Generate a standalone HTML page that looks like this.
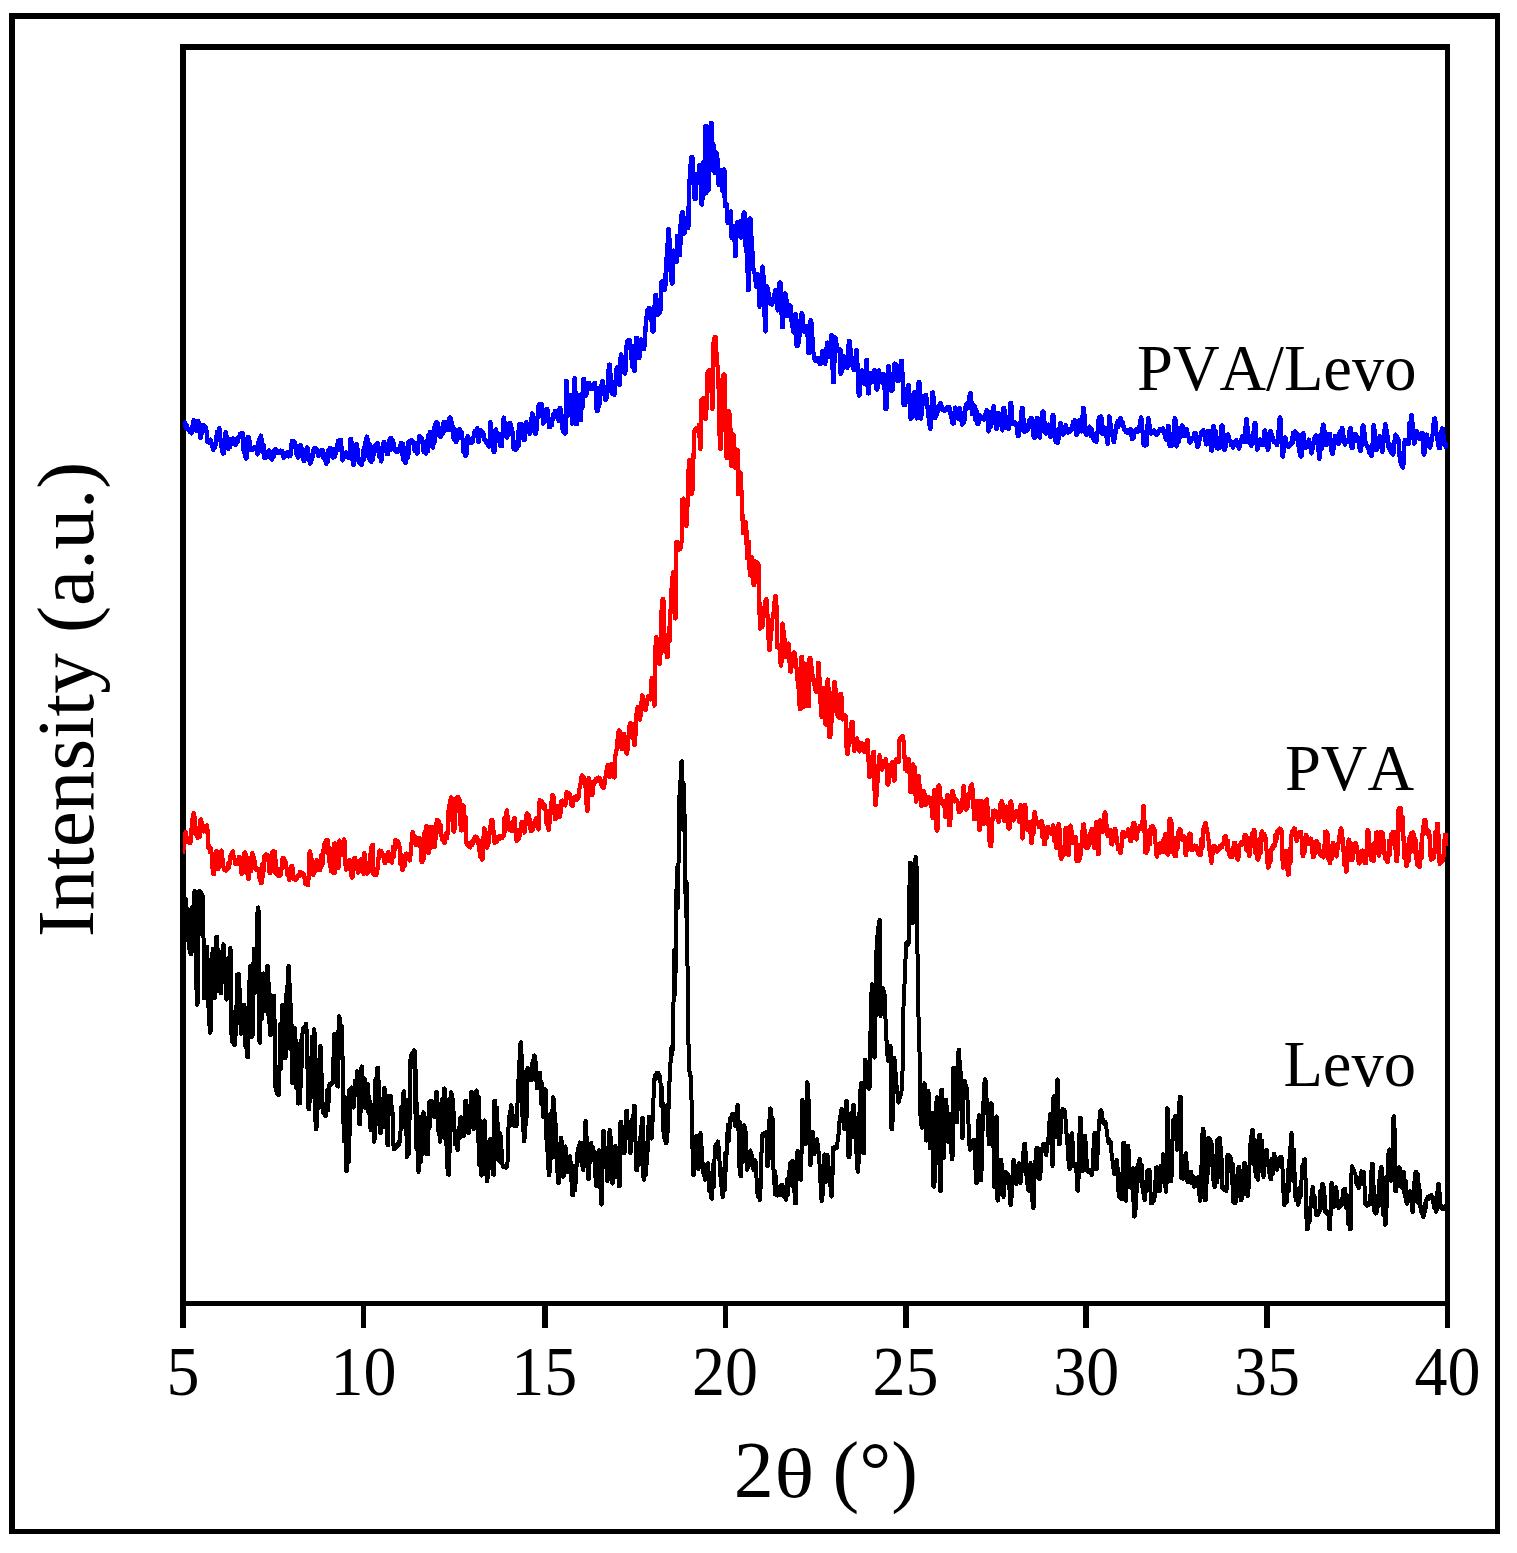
<!DOCTYPE html>
<html lang="en"><head><meta charset="utf-8"><title>XRD patterns</title>
<style>html,body{margin:0;padding:0;background:#fff}body{width:1517px;height:1553px;overflow:hidden}svg{display:block}text{font-family:"Liberation Serif","Times New Roman",serif;fill:#000;font-kerning:none}</style></head><body>
<svg width="1517" height="1553" viewBox="0 0 1517 1553">
<rect width="1517" height="1553" fill="#fff"/>
<g fill="#000" shape-rendering="crispEdges">
<rect x="9" y="13" width="1491" height="6"/>
<rect x="9" y="13" width="6" height="1521"/>
<rect x="1495" y="13" width="5" height="1521"/>
<rect x="9" y="1529" width="1491" height="5"/>
<rect x="180" y="44" width="1270" height="6"/>
<rect x="180" y="44" width="6" height="1284"/>
<rect x="1445" y="44" width="5" height="1284"/>
<rect x="180" y="1301" width="1270" height="5"/>
<rect x="361" y="1301" width="5" height="27"/>
<rect x="542" y="1301" width="6" height="27"/>
<rect x="723" y="1301" width="5" height="27"/>
<rect x="903" y="1301" width="6" height="27"/>
<rect x="1083" y="1301" width="6" height="27"/>
<rect x="1264" y="1301" width="6" height="27"/>
</g>
<clipPath id="plotclip"><rect x="183" y="50" width="1265" height="1251"/></clipPath>
<g fill="none" stroke-width="4.0" stroke-linejoin="round" stroke-linecap="butt" shape-rendering="crispEdges" clip-path="url(#plotclip)">
<path stroke="#0000ff" stroke-width="4.3" d="M183 422.6l0.4 0.7 0.4 2.7 0.5-0.7 0.5-2.9 0.4 1.1 0.3 4.2 0.6-0.2 0.5-2.2 0.4 0.3 0.4 2.5 0.7 2 0.7-1 0.7 2.5 0.8-1.4 0.7 2 0.4 1.3 0.5-1.3 0.7-6.5 0.8-5.3 0.4 0.8 0.5-0.8 0.7 3.9 0.8 5.1 0.4 1.4 0.5-1.4 0.5-5.3 0.4-2.8 0.5 0.6 0.4-0.6 0.6 3.9 0.6 8.6 0.5 3.9 0.5-1.2 0.4 1.2 0.5-4.8 0.5-7.2 0.4-0.7 0.5 0.7 0.6 1 0.7-1.1 0.6 2.1 0.7-0.7 0.6 1.1 0.7 7.9 0.7 6.3 0.5-0.5 0.4 0.5 0.8 0.2 0.7-1.8 0.5-1 0.4 1 0.6 4.1 0.6 0.2 0.7 3.8 0.4 1.2 0.5-1.2 0.3-3.6 0.4-1.5 0.4 2.9 0.4 0.5 0.4-3.5 0.4-1.6 0.5-4.4 0.5-5.9 0.5 2.3 0.5 5.4 0.4-3.3 0.5-6.5 0.4-1.4 0.5 1.4 0.6 9.3 0.6 6.8 0.6 1.7 0.7 4.2 0.6 1.8 0.5-0.8 0.4 0.8 0.8-9.5 0.7-10.6 0.5-1.3 0.4 1.3 0.6 5.8 0.5 2.5 0.6 6.3 0.5 0.9 0.4-0.9 0.6-4.2 0.4 0.1 0.3 3.1 0.7-7.7 0.4 3.7 0.4 0.9 0.6-4.9 0.4-0.5 0.5 0.5 0.6 2.5 0.6-0.5 0.6 3.3 0.5 1 0.4-1 0.5-4.3 0.5-1.2 0.5 2.3 0.6 0.4 0.4-3 0.4-2 0.6 0.6 0.7-3.2 0.6 1.6 0.7-2 0.6-0.1 0.5 0.9 0.4-0.9 0.5 8.1 0.4 11.1 0.5-5.7 0.5-8.3 0.5 9.2 0.4 10.3 0.5 0.8 0.4-0.8 0.7-11.1 0.6-9.9 0.5 0.6 0.4-0.6 0.7 2.9 0.6 6.3 0.6 3.5 0.5-1.1 0.4 1.1 0.7 0.5 0.6-2.2 0.7 1.5 0.7-2.4 0.7 0.1 0.4 1.2 0.5-1.2 0.6 2.5 0.7 3.7 0.4 1 0.5-1 0.7-13.2 0.4 4.8 0.4 6.3 0.5-6.3 0.4-8 0.4-1.5 0.5 1.5 0.6 9 0.6 6.3 0.5-4.6 0.6-3 0.4 8.2 0.5 5.1 0.4-0.7 0.5 0.7 0.4-1.6 0.4-3.5 0.6 0.5 0.5 3.4 0.6-1.8 0.6-4.1 0.5-0.6 0.4 0.6 0.7 4.2 0.7 0.4 0.7 3.4 0.4 0.8 0.5-0.8 0.4-4.9 0.4-2.2 0.4 3 0.4 1.3 0.6-6.2 0.5-0.8 0.4 0.8 0.7 1.2 0.7-0.5 0.7 2.4 0.7-0.5 0.4-0.8 0.5 0.8 0.6 0.6 0.6-2.6 0.7 0.4 0.4 1 0.5-1 0.6 1.5 0.7 4.7 0.4 1 0.5-1 0.6-2.2 0.6 1.5 0.6-3.3 0.6-0.4 0.5 0.7 0.4-0.7 0.6-0.3 0.6 4 0.7-0.2 0.4-0.8 0.5 0.8 0.6-4.5 0.6-7.1 0.6-3.9 0.5 1.5 0.4-1.5 0.6 0.3 0.6 3.3 0.6-2 0.6 2.5 0.6 8.8 0.4-1.9 0.4-4.3 0.5 3.9 0.4 5.8 0.4 0.6 0.5-0.6 0.6-6.4 0.7-5.4 0.4 1.6 0.5-1.6 0.7 10.2 0.5-4.1 0.5-2.5 0.5 7.2 0.6 4.7 0.4-0.8 0.5 0.8 0.4-3.4 0.4-6.2 0.4 2.2 0.4 4.5 0.4-4.1 0.4-5.7 0.5-0.7 0.4 0.7 0.6 6.1 0.6 3 0.7 5.4 0.4 0.8 0.5-0.8 0.7-7.8 0.4 1.4 0.4 3.5 0.4-2.8 0.4-5.7 0.7-1.8 0.7 1.4 0.7-2.9 0.8 0.8 0.4 0.8 0.5-0.8 0.6 2.8 0.7 3.7 0.4 0.8 0.5-0.8 0.4-2.8 0.4-1 0.5 1.9 0.5 0.8 0.5-2.7 0.5-1.5 0.4 0.9 0.5-0.9 0.4 3.1 0.5 5.2 0.6-1.6 0.5-2.9 0.6 3.6 0.5 5.3 0.5 1.5 0.4-1.5 0.5-6.2 0.4-3.2 0.4 5.2 0.4 2.8 0.2-11.5 0.4 1.7 0.4 4.3 0.7-7.6 0.4 1.1 0.5-1.1 0.7 3.9 0.8 5.1 0.4 0.5 0.5-0.5 0.5-3.9 0.5-3 0.4 4.6 0.4 1.7 0-7.6 0.4 1 0.4 3.5 0.5-1.4 0.5-4.5 0.6-3.7 0.5-2.7 0.6 3.5 0.6 1.2 0.4-4 0.5-2 0.5 1.3 0.4-1.3 0.5 8.7 0.5 10.4 0.4 1.6 0.5-1.6 0.5-3 0.5-2 0.5 2.7 0.5 0.4 0.4-3.4 0.4-0.9 0.4 1.5 0.5-1.5 0.4 0.9 0.4 3.5 0.5-0.3 0.4-2.8 0.7 4 0.4-1.4 0.5 1.4 0.4-19.1 0.4 1.5 0.5-1.5 0.6 7.6 0.6 10.7 0.6 7.3 0.5-1.5 0.4 1.5 0.7-5.3 0.6-9.1 0.6-5.7 0.5 1.4 0.4-1.4 0.7 4.5 0.6 8.5 0.7 4.9 0.6-0.9 0.7 2.4 0.7-1.7 0.7 1.4 0.4 1.2 0.5-1.2 0.7-12.7 0.4 4.1 0.4 5.3 0.4-5.6 0.4-8 0.6-4.5 0.7 0.2 0.6-4.4 0.5-1.3 0.4 1.3 0.6 10.9 0.6 9.1 0.5-8.3 0.6-5.7 0.4 10 0.5 7.8 0.4-1 0.5 1 0.4-3.4 0.3-6.2 0.4 2.9 0.4 4 0.4-3.5 0.4-6.1 0.4-2.5 0.5-1.4 0.5 2.4 0.6 0.1 0.6-3.3 0.6-1.2 0.5 0.7 0.4-0.7 0.5 5.1 0.5 7.7 0.5-3 0.5-5.1 0.4 4.7 0.4 7 0.5 1.5 0.4-1.5 0.7-6.6 0.6-4.5 0.6-6.2 0.4-0.9 0.5 0.9 0.4 5.5 0.4 3.1 0.5-3.9 0.5-2.5 0.5 5.4 0.5 4.1 0.4-1.5 0.5 1.5 0.4-5.5 0.4-7.9 0.5 3.9 0.4 5.7 0.7-12.6 0.5 1.5 0.4-1.5 0.4 3.4 0.4 5.1 0.5-1.7 0.5-4.1 0.4 3.7 0.5 5.1 0.7 1.2 0.7-2 0.7 3.2 0.7-2.7 0.7 2.7 0.7-0.6 0.4-1.1 0.5 1.1 0.7-3 0.8-4.7 0.4-0.7 0.5 0.7 0.3 6.9 0.4 4.8 0.4-7 0.5-4.3 0.3 16.2 0.4-3 0.4-5.9 0.4 4 0.4 6.5 0.4 1.6 0.5-1.6 0.7-10.7 0.4 3 0.4 4.5 0.2-15.9 0.3 7 0.4 5.5 0.5-8.1 0.4-6.2 0.5 0.7 0.4-0.7 0.7-0.5 0.6 1.9 0.7-1.9 0.6 2.5 0.7-0.8 0.6 3.5 0.6 5.3 0.6-1.5 0.6-4.4 0.4 2.2 0.4 5.4 0.5 1 0.4-1 0.8-8.8 0.7-7.6 0.5 0.5 0.4-0.5 0.4 0.9 0.5 3.8 0.4-0.9 0.5-1.9 0.5 1.2 0.4 3.7 0.4 5.6 0.5 3.3 0.5-4.5 0.4-2.8 0.5 5.8 0.4 3.1 0.4-0.5 0.5 0.5 0.4-5.7 0.4-7 0.4 4.4 0.4 6.4 0.4-16.7 0.4 4.9 0.4 3.8 0.5-10.2 0.5-1.4 0.4 1.4 0.7 5.3 0.6 3.2 0.6 5.1 0.5 0.6 0.4-0.6 0.4-10.8 0.4-8.5 0.4 7.9 0.4 6.1 0.4-10.9 0.4-8.4 0.5 1.2 0.4-1.2 0.4 2.9 0.4 5.7 0.4-2.1 0.5-5.3 0.2 12 0.4-5.2 0.4-2.7 0.4 5.3 0.5 3.9 0.4-1 0.5 1 0.5-3.4 0.6-4.8 0.5 2.1 0.5 3 0.4-11.7 0.5 5.6 0.5 3.6 0.3-5.7 0.4-3.2 0.5 0.6 0.4-0.6 0.7 1.9 0.6 4.3 0.6 1.8 0.4-1.2 0.5 1.2 0.6-12.7 0.4 1.1 0.4-1.1 0.7 1.5 0.6 5.2 0.7 1.3 0.6 5.9 0.6 7.6 0.5-3.4 0.6-6.3 0.4 4.6 0.5 7.5 0.4 0.6 0.5-0.6 0.4-6.3 0.5-3.4 0.4 4.5 0.5 1.9 0.7-8.7 0.5-0.6 0.4 0.6 0.5 4.9 0.4 2.9 0.5-3.7 0.5-1.4 0.4 5.3 0.5 2.3 0.7 12.4 0.5-6.2 0.4-4.3 0.6 8.2 0.5 5.8 0.4-1.4 0.5 1.4 0.5-7.8 0.5-10.5 0.4-1.5 0.5 1.5 0.4 3 0.5 1.1 0.5-2.4 0.4 0 0.5 2.7 0.4 1.3 0.5-1.3 0.4 1.3 0.6-0.8 0.7-4.7 0.6-0.9 0.5-1.5 0.5-4 0.5 1.2 0.6 2.5 0.5-1.2 0.5-4.2 0.4-1.6 0.5 1.6 0.3 11.2 0.5 1.6 0.4-1.6 0.8-6.3 0.7-4.1 0.4 1.3 0.5-1.3 0.4 2 0.4 3.7 0.5-0.4 0.5-3.4 0.4 1.6 0.5 4.5 0.6 1.8 0.7-0.5 0.6 2.5 0.6-1.1 0.7 2 0.5 2.4 0.5-1.3 0.6 2.2 0.4 0.5 0.5-0.5 0.2-23.1 0.4-1.4 0.5 1.4 0.4 11.2 0.5 10.2 0.5-8.4 0.5-5.6 0.4 11.3 0.4 9.9 0.5-0.9 0.4 0.9 0.5-9.4 0.5-12.1 0.5-0.7 0.4 0.7 0.5 4.9 0.4 3.6 0.5-3.9 0.5-1.7 0.4 5.4 0.4 2.8 0.7 0.2 0.6 4.3 0.7 0.4 0.4-1.6 0.5 1.6 0.7-12.5 0.7-14.6 0.5-1.5 0.4 1.5 0.6 11.6 0.4-3.2 0.4-4.4 0.5 6.1 0.4 7.5 0.5 1 0.4-1 0.7-9.5 0.3 2.7 0.4 4.4 0.5-3.9 0.4-6.6 0.4-1.2 0.5 1.2 0.6 3.8 0.6 0.1 0.7 4.1 0.6 9.6 0.5 7.3 0.5-0.8 0.4 0.8 0.7 0.7 0.7-2.6 0.7 2.6 0.6-1.7 0.5-8.7 0.4-7.3 0.5 8.4 0.4 5.6 0.3-21.8 0.4 5.5 0.4 8.5 0.6-14.1 0.5 1.1 0.4-1.1 0.7 12.7 0.4-6.3 0.4-4 0.4 7.5 0.4 6.1 0.5-1.1 0.4 1.1 0.5-7.3 0.5-9.4 0.5-1.2 0.4 1.2 0.5 4.2 0.5 3.2 0.4-3.6 0.5-0.4 0.4 4.6 0.4 2.4 0.5-0.9 0.4 0.9 0.8-8.2 0.7-11 0.5-1.1 0.4 1.1 0.7 11.9 0.5-2.4 0.4-4.4 0.5 5.8 0.5 8.3 0.4 0.6 0.5-0.6 0.7-10.1 0.7-6.9 0.7-10 0.7-2.1 0.6 2.6 0.7-2.8 0.7 0.2 0.4 1 0.5-1 0.5 8.4 0.5 9.6 0.4 1 0.5-1 0.4-6.5 0.5-3.7 0.5 4.5 0.4 1.5 0.4-5.7 0.4-3.7 0.4 0.8 0.5-0.8 0.6 5.4 0.7 8 0.6 5 0.5-1.5 0.4 1.5 0.4-3.5 0.4-4.8 0.4 1.9 0.5 4.5 0.5-4.1 0.5-5.2 0.7-1.9 0.7 0.2 0.7-3.2 0.6 0.1 0.5 0.8 0.4-0.8 0.7 6.4 0.4-2.6 0.4-1 0.4 4.6 0.4 2.2 0.5-0.6 0.4 0.6 -0.1-12.8 0.5 1.3 0.4-1.3 0.6 5.8 0.7 8 0.6 5.3 0.7 4.6 0.4-2.4 0.4-1 0.5 3.3 0.4 1.9 0.5-1.1 0.4 1.1 0.2-52.4 0.5 1 0.4-1 0.6 15.8 0.6 17.6 0.4 1 0.5-1 0.6-7.4 0.6-4.7 0.6-7 0.4-0.7 0.5 0.7 0.2 27 0.4 1.2 0.5-1.2 0.5-15.5 0.6-12 0.5-15.4 0.5-1.4 0.4 1.4 0.5 23.4 0.5 21.1 0.5-1.4 0.4 1.4 0.5-13.2 0.5-14.6 0.5-1.4 0.4 1.4 0.6 13.3 0.6 10.6 0.4-1.5 0.5 1.5 0.6-26.1 0.4 7.9 0.4 6.1 0.4-15.4 0.4-13.8 0.5 1.5 0.4-1.5 0.8 6.8 0.7 8.3 0.5 1.6 0.4-1.6 0.7-7 0.8-4.2 0.4 0.6 0.5-0.6 0.4 1.8 0.4 3.3 0.4-0.4 0.4-2.9 0.6 4.7 0.5-0.8 0.4 0.8 0.7-4.8 0.4 2.3 0.4 1.1 0.4-4 0.4-1.1 0.5 1 0.4-1 0.7 12.6 0.8 15.3 0.4 0.6 0.5-0.6 0.7-15.8 0.5 4.6 0.5 6.5 0.5-7.9 0.5-10.5 0.6-2.3 0.7-0.7 0.6-2.6 0.5-1.2 0.4 1.2 0.7 12.3 0.4-2.2 0.4-5.1 0.4 4.7 0.4 7.9 0.4 0.6 0.5-0.6 0.6-8.7 0.7-5.3 0.6-9 0.4-7.1 0.4-4.9 0.5 1.3 0.4-1.3 0.7 13.2 0.8 14.6 0.7 1.2 0.8-0.4 0.7 1.3 0.5 0.5 0.4-0.5 0.7-9.7 0.6-6.5 0.7-9.7 0.4-1.1 0.5 1.1 0.7 8.6 0.7 7.4 0.5-0.7 0.4 0.7 0.5-13.7 0.5-15 0.5-1.4 0.4 1.4 0.4 8.5 0.4 5.3 0.5-7.3 0.4-4.4 0.6 8.3 0.5 7.2 0.4-0.6 0.5 0.6 0.5-9 0.5-13.2 0.6-9.5 0.7 0.8 0.8-2.7 0.7 0.3 0.5 1 0.4-1 0.5 5.2 0.6 8.4 0.5 5.4 0.7 7.9 0.4-3.5 0.4-1.2 0.8 7.9 0.4 0.5 0.5-0.5 0.5-17.5 0.6-15.1 0.5 1.4 0.4-1.4 0.6 6 0.6 8.3 0.6 5.7 0.5-1.3 0.4 1.3 0.7-7.9 0.8-9.7 0.4-0.7 0.5 0.7 0.7 5.1 0.7 3.8 0.5-1.1 0.4 1.1 0.6-8.7 0.6-9.6 0.5-7.8 0.5-3.5 0.6-7.7 0.6-2.1 0.7 1.9 0.7-3.4 0.7 0.4 0.4 0.9 0.5-0.9 0.6 6.5 0.7 9.9 0.6 6.7 0.5-1.6 0.4 1.6 0.6-10.8 0.6-14.4 0.6-11.4 0.5 1.5 0.4-1.5 0.8 8 0.7 10.5 0.4 1.4 0.5-1.4 0.6-2.2 0.7 1.4 0.6-1.8 0.6-16.2 0.5-13.1 0.5 1.4 0.4-1.4 0.7 1.4 0.6 5.3 0.7 1.3 0.4-1.3 0.5 1.3 0.5-21.9 0.5-5.4 0.6-8.6 0.5-5 0.4-9 0.4-10.1 0.5-0.8 0.4 0.8 0.7 21.7 0.8 19.6 0.5 5.4 0.6 6.5 0.4 0.9 0.5-0.9 0.7-31 0.4-1.2 0.5 1.2 0.7 6.4 0.8 4 0.4-0.7 0.5 0.7 0.2-26.2 0.4 1.5 0.5-1.5 0.5 5.1 0.5 8.5 0.6 5.5 0.4-1.2 0.5 1.2 0.6-39.6 0.6-0.2 0.6-2.4 0.4-1.1 0.5 1.1 0.7 20.1 0.4 0.9 0.5-0.9 0.5-8.8 0.6-5.6 0.5 1.2 0.4-1.2 0.5 2.7 0.5 5.3 0.5 1.4 0.4-1.4 0.4-31.7 0.5-10.5 0.5-6.9 0.5-9.5 0.6-6.7 0.6-4.4 0.4 1.3 0.5-1.3 0.5 11.9 0.6 13.5 0.6 9.2 0.5 7.5 0.5-0.6 0.4 0.6 0.2-24.7 0.5 0.7 0.4-0.7 0.6 1.5 0.6 3.4 0.5 0.6 0.4-0.6 0.2-13.6 0.5-0.8 0.4 0.8 0.6 14.2 0.5 10.1 0.5 13.8 0.5 1.1 0.4-1.1 0.7-40.5 0.5-1.6 0.4 1.6 0.5 16.2 0.5 14 0.5-1.6 0.4 1.6 -0.6-67.4 0.5 1.2 0.4-1.2 0.6 20 0.5 23.4 0.6 20.9 0.4-1.2 0.5 1.2 0.5-28 0.6-30.7 0.6-4.9 0.5-3.8 0.5 1.5 0.4-1.5 0.2 46.8 0.5-0.7 0.4 0.7 -0.4-25.5 0.5 1 0.4-1 0.5 13.3 0.5 14.6 0.5 1 0.4-1 0.7-18.4 0.4-1.2 0.5 1.2 0.6 5.3 0.5 4.3 0.4 21.4 0.4-1.5 0.5 1.5 0.5-5.8 0.6-7.8 0.5-1.1 0.4 1.1 0.7 19.2 0.5 1.1 0.4-1.1 0.7-20 0.4-0.9 0.5 0.9 0.2 35.2 0.4 0.8 0.5-0.8 0.7-0.6 0.4-1.2 0.5 1.2 0.2 17 0.4 1.1 0.5-1.1 0.6-4 0.7-1.2 0.6-4.5 0.5-0.8 0.4 0.8 0.4 25.5 0.4 0.5 0.5-0.5 0.5-6.4 0.5-4.8 0.4 0.5 0.5-0.5 0.7 29.4 0.4-0.6 0.5 0.6 0.4-14.9 0.4-17.6 0.7-1.1 0.8 2.2 0.7-1.6 0.5-1.3 0.4 1.3 0.7 14 0.5 0.6 0.4-0.6 0.6-9.9 0.5-6.8 0.6-2 0.6-5.2 0.4-0.5 0.5 0.5 0.5 19 0.6 15.9 0.5 1.4 0.6 4.4 0.5 1.3 0.7 34.9 0.4-1.5 0.5 1.5 0.6-71.3 0.5 0.7 0.4-0.7 0.6 8.4 0.5 12.1 0.5 8 0.6 6.6 0.5 10.3 0.5 6.9 0.6-0.6 0.5 4.1 0.5-0.4 0.7 12.8 0.4-1.2 0.5 1.2 0.4-5 0.4-6.3 0.5-1.2 0.4 1.2 0.5 30.2 0.5 1 0.4-1 0.7-12.6 0.6-11.2 0.5-6.6 0.5-7.7 0.4-1.1 0.5 1.1 0.6 17.3 0.5 16 0.4 13.7 0.4 15.7 0.5 1.2 0.4-1.2 0.7-42.9 0.5-1 0.4 1 0.7 4.2 0.6 1.6 0.6 4.6 0.6 4.1 0.6 2.2 0.4-1.4 0.5 1.4 0.6 0.5 0.7-3.2 0.6 1.1 0.6-2.7 0.7-7.1 0.6-2.9 0.5 0.7 0.4-0.7 0.6 8.9 0.6 10.2 0.4 1.5 0.5-1.5 0.6-14.5 0.7-11.8 0.4 1.2 0.5-1.2 0.5 14 0.6 16.5 0.5 14 0.5-1.2 0.4 1.2 0.6-15.1 0.6-17.4 0.6-1.2 0.6 2.4 0.7-1.2 0.5 9 0.6 11.6 0.4 0.7 0.5-0.7 0.7-5.5 0.8-4.1 0.4 1.6 0.5-1.6 0.5 5.4 0.5 9.8 0.6 5.4 0.6 1.6 0.5 3.3 0.6 1.5 0.5-0.7 0.4 0.7 0.7-18.3 0.5 0.9 0.4-0.9 0.3 31.7 0.5-1.2 0.4 1.2 0.4-7.4 0.4-8.5 0.4 5 0.4 7.1 0.7-15.3 0.5-4 0.5-5.6 0.6-3.9 0.4 1.2 0.5-1.2 0.6 5 0.6 8.4 0.6 4.9 0.4-0.9 0.5 0.9 0.7-1.4 0.7-3.5 0.5-0.7 0.4 0.7 0.5 14 0.5 12.3 0.5-1.3 0.4 1.3 0.6-14.9 0.6-17.7 0.4-0.6 0.5 0.6 0.5 9.6 0.6 7 0.5 10.4 0.6 5.4 0.6 1.7 0.6 5.5 0.4 0.7 0.5-0.7 0.6-1.2 0.7 1.5 0.6-1.1 0.5-1.4 0.4 1.4 0.8 3.3 0.7 1.6 0.4-1.3 0.5 1.3 0.6-4.5 0.5-7.6 0.5-0.8 0.4 0.8 0.6 4.6 0.6 1.1 0.6 4.8 0.5 1.5 0.4-1.5 0.8-11 0.7-9 0.5 0.9 0.4-0.9 0.7 5.9 0.8 7 0.4 1.4 0.5-1.4 0.7-20 0.4-0.6 0.5 0.6 0.5 24 0.6 22.8 0.5-1.1 0.4 1.1 0.5-20.8 0.5-22.8 0.5-1.3 0.4 1.3 0.8 7 0.7 5.5 0.4-1.4 0.5 1.4 0.7 0 0.8-1.1 0.4-0.7 0.5 0.7 -0.1 22.8 0.4 1.2 0.5-1.2 0.7-9.5 0.5 2.2 0.4 3.2 0.6-4.7 0.5-6.4 0.4-1.3 0.5 1.3 0.6 4.4 0.6 1.2 0.6 4 0.4 0.7 0.5-0.7 0.6-14 0.5-12.2 0.5 1.2 0.4-1.2 0.6 5.9 0.6 8.4 0.6 6.3 0.7 1.4 0.7 5 0.7 1.6 0.4-1.5 0.5 1.5 0.7-7.7 0.8-10.7 0.4-1.5 0.5 1.5 0.6 15.6 0.6 12.2 0.6 15.9 0.4 0.8 0.5-0.8 0.6-8.5 0.6-6 0.7-8.6 0.4-1.5 0.5 1.5 0.6 5.2 0.6 1.5 0.6 4.5 0.4 0.9 0.5-0.9 0.6-12.4 0.5-10.7 0.5 0.9 0.4-0.9 0.7 33.4 0.5-0.9 0.4 0.9 0.7-9 0.6-10.9 0.5-0.7 0.4 0.7 0.6 5.5 0.6 3.3 0.4-1.3 0.5 1.3 0.6-4.5 0.6-6.7 0.4-1.4 0.5 1.4 0.6 10.3 0.7 8.1 0.4-0.7 0.5 0.7 0.5-7.5 0.6-10.1 0.5-1.5 0.4 1.5 0.8 6 0.7 4.4 0.4-0.5 0.5 0.5 0.7-2.5 0.8-4.7 0.4-1.1 0.5 1.1 0.7 18.2 0.7 15.9 0.5-1.5 0.4 1.5 0.8-19.8 0.7-22.2 0.5-1.4 0.4 1.4 0.6 11.9 0.6 10.8 0.4-1.1 0.5 1.1 0.7 1.2 0.8-2.1 0.7 0.4 0.4-11.7 0.4-12.8 0.7-1.3 0.7 2.8 0.7-2.1 0.8 0.6 0.5 9.1 0.6 6.8 0.4-0.7 0.5 0.7 0.6-15.2 0.4 7.4 0.4 4.6 0.4-9.6 0.4-7.2 0.5 0.8 0.4-0.8 0.6 14.1 0.6 16.9 0.6 13.5 0.5-1.1 0.4 1.1 0.6 0 0.5-3.6 0.5-0.5 0.6-4.4 0.6-7.7 0.6-3.8 0.5 1.3 0.4-1.3 0.6 10.1 0.5 13.3 0.5 10 0.5-1.3 0.4 1.3 0.8-19 0.4 8.2 0.5 5.8 0.5-12.1 0.4-9.1 0.5 0.9 0.4-0.9 0.8 10.9 0.7 13.8 0.4 1.2 0.5-1.2 0.6-19 0.6-16 0.4 1.4 0.5-1.4 0.5 16.1 0.5 18.9 0.4 1.4 0.5-1.4 0.6-8.2 0.6-3.9 0.7-7.8 0.7-1.4 0.8 2 0.7-1.7 0.5-1.3 0.4 1.3 0.5 6.1 0.6 3.2 0.5 6 0.7 6 0.6 3.3 0.6 6.6 0.5 1.6 0.4-1.6 0.8-18.3 0.7-16.6 0.5 0.6 0.4-0.6 0.8 11.6 0.7 13.1 0.4 0.9 0.5-0.9 0.4-4.6 0.4-3 0.4 4.1 0.5 1 0.7-7.1 0.7-1.9 0.8 0 0.7-2.2 0.5-0.6 0.4 0.6 0.8 4.6 0.7 2.1 0.4-1.3 0.5 1.3 0.7 0.4 0.7-1.5 0.6 1.3 0.7-1.2 0.6-1.7 0.6 2.1 0.6-2.5 0.6 0 0.5 0.6 0.4-0.6 0.6 2.9 0.6 5 0.6 2.9 0.5 1.1 0.5 3.9 0.6 0.6 0.4-1.2 0.5 1.2 0.6-6.9 0.5-8.3 0.5-0.7 0.4 0.7 0.6 3.7 0.6 1.5 0.6 3.7 0.5 1.3 0.4-1.3 0.7-8.1 0.5-0.9 0.4 0.9 0.6 5.9 0.6 2.3 0.6 6.2 0.4 1 0.5-1 0.7-10.4 0.4 3.7 0.4 5.1 0.5-4.1 0.4-7.1 0.6-4.6 0.5-1.7 0.6 3 0.5 1.2 0.5-4 0.5-1.8 0.6-1.6 0.6-5.8 0.7-2.1 0.4 0.7 0.5-0.7 0.7 20.7 0.4-0.5 0.5 0.5 0.5-2.1 0.6-5.2 0.5-1.4 0.4 1.4 0.4 7.5 0.4 5.8 0.4-6.2 0.5-4 0.4 8.3 0.5 6.2 0.5-0.8 0.4 0.8 0.7-2.2 0.8-5.3 0.4-1.2 0.5 1.2 0.6 1 0.6-1 0.6 1.8 0.6-1.6 0.6 1.1 0.5 1.4 0.4-1.4 0.7-3.7 0.6-0.1 0.7-3.6 0.4-0.7 0.5 0.7 0.7 19.9 0.4 0.7 0.5-0.7 0.7-11.5 0.4 3.3 0.3 5 0.4-5.2 0.4-6.7 0.6-4.1 0.7-0.2 0.6-3.7 0.5-1.2 0.4 1.2 0.7 8.5 0.6 4.5 0.7 7.7 0.4 1.1 0.5-1.1 0.5-8.2 0.5-7 0.4 1.4 0.5-1.4 0.6 0.6 0.7 3 0.6-0.3 0.6 4.9 0.5 7.8 0.5 1.4 0.4-1.4 0.7-20.7 0.5-0.6 0.4 0.6 0.6 7.1 0.7 4.3 0.6 7.7 0.7 0.7 0.6-1.4 0.7 1.2 0.4 1 0.5-1 0.6-14.1 0.6-11.1 0.5 1.2 0.4-1.2 0.7 9 0.7 11.8 0.4 0.8 0.5-0.8 0.7-1.7 0.7 1.2 0.4 0.9 0.5-0.9 0.7 2.8 0.7 6.5 0.7 3.8 0.4-1.4 0.5 1.4 0.5-3.6 0.5-6.1 0.5-3.2 0.6-4 0.5-6.8 0.6-4.4 0.4 1.4 0.5-1.4 0.5 10.7 0.6 12.3 0.4 0.9 0.5-0.9 0.6-1 0.7 0.9 0.7-2.4 0.6 1.8 0.7-1.8 0.4-4.9 0.4-3.2 0.4 4.3 0.5 1.8 0.4-4.9 0.5-3.7 0.4 0.9 0.5-0.9 0.7 5.6 0.7 9.1 0.7 5 0.5-1.4 0.4 1.4 0.7-5.3 0.7-8.3 0.7-6.1 0.5 0.9 0.4-0.9 0.7 8.2 0.7 10.8 0.5 0.7 0.4-0.7 0.7-16.9 0.5 4.6 0.4 6.8 0.5-8.8 0.5-10.8 0.5-0.5 0.4 0.5 0.7 8.7 0.7 4.1 0.7 8.5 0.5 0.7 0.4-0.7 0.6-3.7 0.6-0.6 0.5-3.3 0.5-0.9 0.4 0.9 0.5 6.8 0.6 4.6 0.4-0.8 0.5 0.8 0.7-9.8 0.7-11.5 0.4-0.9 0.5 0.9 0.7 9.8 0.7 6.6 0.7 9.4 0.6 0.9 0.6-1.9 0.6 1.5 0.5 0.9 0.4-0.9 0.6-7.5 0.5-3.4 0.6-7.1 0.4-1.2 0.5 1.2 0.6 4.2 0.6 1 0.6 4.7 0.5 0.6 0.4-0.6 0.6-3.1 0.6-1.4 0.6-3.1 0.5-1.2 0.4 1.2 0.6 3.1 0.6-0.2 0.5 2.5 0.5 0.9 0.4-0.9 0.7-2.1 0.7 2 0.6-2.3 0.7 0.7 0.7-1.4 0.4-4 0.4-2.7 0.4 3.1 0.4 1.9 0.6-5.9 0.5-0.9 0.4 0.9 0.5 7.4 0.5 6.3 0.4-1.5 0.5 1.5 0.7-3.9 0.7-6.8 0.7-3.7 0.4 1.2 0.5-1.2 0.4 3.6 0.5 6.2 0.5 1.4 0.4-1.4 0.5-11.9 0.6-10.1 0.4 0.9 0.5-0.9 0.5 7.9 0.6 10.3 0.6 8.4 0.4-0.9 0.5 0.9 0.3-1.5 0.4-4 0.5 0.6 0.4 3.9 0.5-1.6 0.4-4.3 0.5-1.2 0.4 1.2 0.5 5.5 0.5 3.2 0.5-4.1 0.5-3.1 0.6 5.4 0.5 3.8 0.7-0.3 0.7 2.7 0.7-1.1 0.8 1.2 0.4 0.9 0.5-0.9 0.6-8.5 0.6-5 0.6-8.7 0.6-1.9 0.6 2 0.6-1.7 0.5-0.6 0.4 0.6 0.5 9.7 0.4 7 0.5-1.5 0.4 1.5 0.6-1.5 0.5-3.8 0.5-0.9 0.4 0.9 0.7 5.9 0.7 3.1 0.7 5.4 0.5 1.3 0.4-1.3 0.7-25 0.4-1.6 0.5 1.6 0.6 5.6 0.6 2.2 0.6 5.8 0.6 4.5 0.6 0.9 0.6 3.8 0.5 1.5 0.4-1.5 0.6-5.3 0.6-2.1 0.6-4.8 0.5-3.6 0.5-2.4 0.5 3.2 0.5 1.7 0.2-6.9 0.4 0.6 0.5 2.9 0.5-1.4 0.5-4 0.5-0.8 0.4 0.8 0.5 5.2 0.5 2 0.4-2.7 0.5-0.9 0.7 6.3 0.7 1.6 0.6-1 0.7 2.8 0.7-1.6 0.6 1.3 0.5 1.5 0.4-1.5 0.8-1.6 0.7 1.6 0.7-1.6 0.4-1.1 0.5 1.1 0.5 5.4 0.5 3.7 0.5-1.5 0.4 1.5 0.8-1.4 0.7-6 0.7-1.7 0.6 1.2 0.6-1.8 0.7 2 0.6-2.2 0.6 2.3 0.7-1.5 0.6-4.5 0.6-1.9 0.6-5 0.4-1.4 0.5 1.4 0.6 9.3 0.6 6.8 0.6 9.7 0.7 0.7 0.6-0.9 0.7 1.3 0.6-0.6 0.4-1.5 0.5 1.5 0.5-11.2 0.4-14.3 0.5-1.2 0.4 1.2 0.6 5.1 0.6 2.3 0.6 5.5 0.5 1.3 0.4-1.3 0.8-1.2 0.7 1.8 0.7-1.4 0.4-1.3 0.5 1.3 0.7 2.1 0.7 1 0.4-0.7 0.5 0.7 0.6-0.1 0.6-2.8 0.7 0.4 0.6-2.1 0.7-1.2 0.7 1.7 0.6-1.8 0.7 1.7 0.7-0.9 0.4-1.1 0.5 1.1 0.7 4.1 0.7 1.1 0.7 4.4 0.5 0.6 0.4-0.6 0.7-7.6 0.7-5.3 0.4 0.7 0.5-0.7 0.6 19.5 0.4-1.6 0.5 1.6 0.6 0.6 0.7-2.6 0.6 1.4 0.7-1.4 0.5-9.3 0.5-5.7 0.5-9.3 0.4-1.3 0.5 1.3 0.6 25.8 0.5 1.3 0.4-1.3 0.7-3 0.7 0.5 0.7-3.6 0.5-7.1 0.5-4.2 0.4 5.8 0.5 3 0.7-10.4 0.5-0.9 0.4 0.9 0.7 5.9 0.7 4 0.4-1.1 0.5 1.1 0.7-1.5 0.7-4.6 0.4-1.1 0.5 1.1 0.7 4.8 0.7 1.7 0.7 4.6 0.5 1.5 0.4-1.5 0.6-1.3 0.7 0.9 0.6-2.4 0.7 0.8 0.7-0.5 0.7-4.8 0.7-0.8 0.5 1.2 0.4-1.2 0.5 3.3 0.5 6.7 0.5 3.7 0.5-1.1 0.4 1.1 0.7-3 0.8-4.7 0.7-2.9 0.4-0.9 0.4-2.9 0.5 0 0.4 2.2 0.4-0.9 0.4-2.8 0.5-0.6 0.4 0.6 0.8 5.5 0.7 2 0.7 5.4 0.4 0.7 0.5-0.7 0.7-7.3 0.7-5.6 0.4 0.9 0.5-0.9 0.7 5.8 0.7 7.9 0.7 6 0.4-1.5 0.5 1.5 0.4-10.2 0.5-13.3 0.5-1.2 0.4 1.2 0.4 10.2 0.4 7.3 0.4-7.7 0.4-5.9 0.7 15.8 0.6 1.6 0.7-1.8 0.6 2.3 0.7-1.1 0.4-1.1 0.5 1.1 0.6-5.9 0.6-9.5 0.6-6.8 0.4 1.3 0.5-1.3 0.6 7.4 0.5 9.8 0.6 7.1 0.4-1.6 0.5 1.6 0.7-4.6 0.7-6.3 0.7-4.3 0.5 0.8 0.4-0.8 0.7 1.1 0.6 3.5 0.7 1.4 0.5 1 0.4 3.8 0.5-0.2 0.4-3 0.4 1.3 0.4 3.2 0.4 0.9 0.5-0.9 0.7-3.1 0.7-0.4 0.7-2.6 0.5-0.5 0.4 0.5 0.7 3.8 0.7 0 0.7 3.1 0.5 1 0.4-1 0.8-4.8 0.7-0.2 0.7-4.9 0.4-1 0.5 1 0.7 3 0.7 1.6 0.4-0.8 0.5 0.8 0.5-9.5 0.5-12.5 0.5-1.5 0.4 1.5 0.7 7.5 0.7 4.7 0.8 8.2 0.6 2.4 0.6-0.3 0.6 2.5 0.4 0.7 0.5-0.7 0.5-5.3 0.5-2.3 0.6-3.2 0.7-7.1 0.6-4.1 0.4 1.2 0.5-1.2 0.7 11.8 0.6 13.2 0.5 1.5 0.4-1.5 0.7-3 0.8-1.4 0.7-3.2 0.4-1.3 0.5 1.3 0.7 3.1 0.6 1.5 0.5-1.5 0.4 1.5 0.7-5.4 0.7-8.3 0.5-1.2 0.4 1.2 0.7 6.2 0.7 3.7 0.8 6.8 0.4 1.6 0.5-1.6 0.6-6.5 0.6-4 0.6-6.2 0.4-0.7 0.5 0.7 0.7 3.9 0.7 0.9 0.7 4.3 0.7 1.4 0.6-0.8 0.7 2 0.7-1.3 0.6 1.8 0.5 1.4 0.4-1.4 0.8-9.3 0.7-6.2 0.7-9.6 0.4-1.4 0.5 1.4 0.6 13.6 0.6 10.5 0.6 13.1 0.5 0.8 0.4-0.8 0.6-10.6 0.6-7.6 0.5 1.2 0.4-1.2 0.6 1.9 0.7 4.7 0.6 1.5 0.4-0.6 0.5 0.6 0.6 1.2 0.7-3 0.7 1.7 0.6-2.6 0.7 0.7 0.7-6.3 0.4 3.2 0.4 2.1 0.2-9.6 0.4 2.2 0.4 4.5 0.4-2.9 0.4-4.6 0.5-0.8 0.4 0.8 0.5 3.2 0.4 0.5 0.4-1.7 0.5-0.5 0.4 2.7 0.4 1.1 0.7 14.1 0.4-6.8 0.4-4.2 0.4 8.7 0.4 7.2 0.5-0.8 0.4 0.8 0.6-10.3 0.6-12.5 0.5-0.7 0.4 0.7 0.6 6 0.6 1.5 0.7 6.2 0.4 0.5 0.5-0.5 0.7-3.3 0.7 0 0.7-3.6 0.4-0.9 0.5 0.9 0.6 5.6 0.6 1.5 0.6 5.1 0.5 0.7 0.4-0.7 0.7-5.9 0.7-2.5 0.7-6 0.7-1.5 0.6 1.4 0.7-3.2 0.6 0.7 0.5 1.1 0.4-1.1 0.7 9.7 0.7 11.8 0.4 1.5 0.5-1.5 0.4-12.5 0.5-10 0.5 8.1 0.5 5.9 0.5-13.6 0.5-10.5 0.4 0.7 0.5-0.7 0.7 5.5 0.7 8.8 0.7 6.2 0.5-1.2 0.4 1.2 0.7-3.1 0.7-5.5 0.8-2.8 0.4 1.4 0.5-1.4 0.7 5.2 0.7 9.3 0.7 5.2 0.4-0.7 0.5 0.7 0.7-4.7 0.7-7.6 0.7-5.1 0.5 1.1 0.4-1.1 0.7 1.5 0.7 4.1 0.7 2 0.5-1.2 0.4 1.2 0.5-4.9 0.4-7.4 0.5 3.9 0.5 6.1 0.5-5 0.5-7.9 0.5-0.7 0.4 0.7 0.6 5.7 0.7 3.9 0.6 5.6 0.4 1 0.5-1 0.7-2.1 0.7 0.8 0.7-2.9 0.8-0.4 0.6-2.1 0.6-5.5 0.6-3 0.4 1.5 0.5-1.5 0.6 19.7 0.4-1.1 0.5 1.1 0.7-3.7 0.7-7.3 0.7-3.4 0.5 0.8 0.4-0.8 0.5 1.8 0.5 3.2 0.4-0.4 0.5-2.1 0.7 4.3 0.7 2.8 0.7 4.7 0.7 2.4 0.5-1.2 0.4 1.2 0.5-7.3 0.6-10.2 0.5-7.5 0.4 1.1 0.5-1.1 0.7 5.5 0.7 8 0.7 4.7 0.6 0.2 0.6 2.4 0.6-0.6 0.6 2.9 0.6-0.4 0.8 5.3 0.4-3.2 0.5-0.3 0.4 4.3 0.5 1.5 0.5-0.5 0.4 0.5 0.5-13.8 0.6-15.8 0.4-0.9 0.5 0.9 0.5 8.6 0.6 5.5 0.6 9.5 0.4 0.5 0.5-0.5 0.4-6.4 0.5-4.2 0.5 5.1 0.4 2.5 0.7-9.2 0.5-1.6 0.4 1.6 0.6 4.9 0.6 2.7 0.5 5.3 0.5 1.3 0.4-1.3 0.7-8.9 0.7-7 0.7-9.1 0.5-1.5 0.4 1.5 0.8 5.7 0.7 3.5 0.7 5.9 0.7 7.4 0.4-1.4 0.5-3.1 0.4 2.9 0.4 4.9 0.7 1.2 0.7-0.4 0.7 1.2 0.5 1.6 0.4-1.6 0.6-7.3 0.5-3.4 0.6-7.3 0.5-0.7 0.4 0.7 0.7 1.9 0.6-0.7 0.6 3 0.7 0.4 0.5 6.3 0.5 9.9 0.5 5.8 0.6 0.2 0.5 2.9 0.6-1.3 0.6 2.7 0.4 1.2 0.5-1.2 0.7-13.8 0.7-12.7 0.4 0.9 0.5-0.9 0.7 0 0.7 3.1 0.7 0.7 0.4-0.9 0.5 0.9 0.4-9.4 0.5-11.8 0.4 5.5 0.5 8.5 0.4-8.9 0.4-11.2 0.4-1.5 0.5 1.5 0.5 9.6 0.6 6.7 0.6 9.5 0.4 1.4 0.5-1.4 0.6-6.3 0.7-4.4 0.5 1.4 0.4-1.4 0.7 1.8 0.7 4.2 0.8 1.6 0.4-0.6 0.5 0.6 0.6-0.9 0.6-3.8 0.6-1.4 0.4 0.8 0.5-0.8 0.4 9.6 0.5 10.9 0.5 1 0.4-1 0.7-10.3 0.7-8.6 0.4 0.9 0.5-0.9 0.5 3.5 0.5 6.6 0.4-1.8 0.5-4.2 0.7 8.8 0.4-1.5 0.5 1.5 0.7-3.1 0.7-5.4 0.7-2.9 0.6-5.3 0.6-7.6 0.6-4.6 0.5 0.9 0.4-0.9 0.6 5.6 0.6 7.6 0.6 5.8 0.8 2.9 0.7 5 0.7 2.7 0.4-0.9 0.5 0.9 0.6-5 0.6-9.4 0.6-5.3 0.4 0.8 0.5-0.8 0.6 4.7 0.6 7.1 0.6 4.9 0.7-1.2 0.6 2.8 0.7-1.8 0.6 1.7"/>
<path stroke="#ff0000" stroke-width="4.2" d="M183 854.3l0.7-8.1 0.7-4.5 0.8-8.3 0.4-1.4 0.5 1.4 0.6 5.2 0.7 3.7 0.4-0.5 0.5 0.5 0.7 0.7 0.7-2.3 0.8 2.1 0.7-1.9 0.4-12.3 0.5-9.5 0.3 8.3 0.4 5.7 0.6-18.8 0.5-1.2 0.4 1.2 0.6 8 0.6 4.5 0.6 7.3 0.7 1.9 0.6-1.1 0.6 3.2 0.6-1 0.4-0.6 0.5 0.6 0.4-7 0.5-10.2 0.4-0.6 0.5 0.6 0.6 4.9 0.6 1.1 0.6 4.5 0.4 1 0.5-1 0.6-2.8 0.6 0.9 0.6-2.4 0.6-0.6 0.5 1.7 0.4-1.7 0.7 19.8 0.6 3.2 0.4-2.5 0.3-0.1 0.7 6.2 0.4-1.4 0.4-2.7 0.6 4.1 0.6 5.5 0.6 10.9 0.6 5.6 0.4-0.7 0.5 0.7 0.6-6.5 0.6-9.4 0.6-6.9 0.4 1 0.5-1 0.4 7.3 0.4 9.9 0.5 0.7 0.4-0.7 0.5-7.9 0.4-5 0.4 4.6 0.5 3.3 0.7-12.2 0.5-0.7 0.4 0.7 0.6 7.4 0.6 3.3 0.6 6.9 0.7 1.2 0.8-2.2 0.7 2.7 0.7-1 0.5-1 0.4 1 0.4-2.8 0.4-4 0.4 1 0.4 3.8 0.7-6.6 0.4-1.3 0.4-4.8 0.4 0 0.4 3.5 0.4-1.6 0.4-4.4 0.5-1 0.4 1 0.6 4.3 0.6 0.8 0.6 4.6 0.6 1.8 0.6-1.7 0.7 1.9 0.6-0.5 0.4-1 0.5 1 0.6-6.7 0.5 1.2 0.4-1.2 0.7 6.5 0.7 9.6 0.4 1.1 0.5-1.1 0.4-8.2 0.4-6.9 0.4 6.6 0.4 3.4 0.4-8.8 0.4-6.7 0.5 1.2 0.4-1.2 0.5 9.6 0.4 11.2 0.4-5.9 0.5-8.1 0.7 19.4 0.5-1.1 0.4 1.1 0.6-8.8 0.5-11.8 0.5 6 0.5 7.5 0.4-7.8 0.4-10.1 0.5-0.8 0.4 0.8 0.4 6.8 0.4 4.1 0.4-4 0.5-2.8 0.4 6.5 0.4 4.7 0.7-1 0.6 2.3 0.7-1.9 0.7 1.7 0.6-1.1 0.6 8.8 0.4-3.3 0.4-1.8 0.5 6.1 0.4 4.4 0.4-1.2 0.5 1.2 0.4-7.9 0.4-11.4 0.4 5 0.4 7.2 0.4-8 0.4-11.5 0.8-1.1 0.7 2.1 0.7-3.1 0.8 0.6 0.4 0.8 0.5-0.8 0.6 4.5 0.5 9.2 0.6 4.3 0.5-0.6 0.4 0.6 0.7-6.4 0.7-9.6 0.7-5.7 0.4 1 0.5-1 0.6 14.4 0.4-7.8 0.4-6.2 0.4 21.4 0.4-5.7 0.4-6.9 0.7 14 0.7-0.6 0.7 1.9 0.6-3.1 0.7 3.6 0.7-3 0.7 1.2 0.5-4.9 0.6-7 0.6-4.6 0.5 1.6 0.4-1.6 0.5 1.6 0.4 4.7 0.5-0.4 0.5-3.1 0.5 2.7 0.6 4.2 0.7 7.4 0.4-1 0.5-3.3 0.4 2.7 0.4 5.1 0.5 1.3 0.4-1.3 0.7-7.2 0.7-5.5 0.4 1.7 0.5-1.7 0.6 2.7 0.6 6.7 0.5 3.7 0.5-1 0.4 1 0.8 1 0.7-3.1 0.7 2.1 0.8-2.3 0.7-2.2 0.7 1.6 0.7-3.9 0.8 0.4 0.4 0.8 0.5-0.8 0.7 0.1 0.7 2.8 0.8-1.2 0.7 2.4 0.5 5.1 0.4 2.2 0.5-3.7 0.6-2.3 0.4 5.3 0.5 2 0.4-1.1 0.5 1.1 0.7-15.6 0.6-17.3 0.5-1.1 0.4 1.1 0.5 9.7 0.4 6.1 0.4-5.7 0.4-3.3 0.8 14.9 0.4 1.3 0.5-1.3 0.5-7.2 0.4-3.7 0.4 5.7 0.5 2.2 0.7-9.7 0.4-1.5 0.5 1.5 0.4 4.1 0.4 2 0.5-3.6 0.4-1.1 0.7 5.7 0.5 1.7 0.4-1.7 0.5-8.5 0.6-5.4 0.5 6.4 0.5 3.9 0.4-7.4 0.4-5.4 0.7-8 0.5 5.2 0.4 3.1 0.6-11.4 0.4 1 0.4 3.9 0.6-5.8 0.5 1.3 0.4-1.3 0.5 10.3 0.5 11.4 0.4-5.6 0.5-8.4 0.4 8.3 0.4 11.6 0.5 3.6 0.5 0.4 0.6-3 0.5 0.2 0.5 3.7 0.5 0.4 0.5-1.2 0.4 1.2 -0.4-29.5 0.4 1.5 0.5-1.5 0.4 8.4 0.4 10.5 0.4-6.3 0.4-7.7 0.4 8.5 0.5 10.5 0.4 0.9 0.5-0.9 0.6-25 0.5-1.8 0.4 1.8 0.7 7.7 0.7 4.9 0.4-1.2 0.5 1.2 0.6-6.1 0.7-8.8 0.5-0.7 0.4 0.7 0.7 16 0.6 13.5 0.5-1.4 0.4 1.4 0.7-2.1 0.7-5 0.7-2.2 0.4 1 0.5-1 0.6 4.8 0.7 8 0.7 4.4 0.4-0.8 0.5 0.8 0.6-5.9 0.6-8 0.6-5.6 0.4 1.5 0.5-1.5 0.4 4.2 0.4 7.2 0.4-3.1 0.4-5.8 0.4 4 0.4 7.3 0.5 1 0.4-1 0.7-4.4 0.7-2.1 0.6-5 0.5-1.1 0.4 1.1 0.6 5 0.6 2.1 0.6 5.6 0.5 0.9 0.4-0.9 -0.4-19.4 0.4-0.9 0.5 0.9 0.6 7.4 0.7 3.8 0.7 8.2 0.4 0.5 0.5-0.5 0.4-5.9 0.3-3.8 0.5 4.8 0.4 3 0.4-5.8 0.4-4.3 0.5-5.5 0.4-7.7 0.4 3.4 0.4 5 0.6-11.6 0.4 1.7 0.5-1.7 0.2 29.5 0.5-1.2 0.4 1.2 0.7 1.2 0.8-2.3 0.7 1.7 0.7-1.4 0.6-8.6 0.6-4.4 0.6-9 0.5-0.8 0.4 0.8 0.7 1.9 0.8-2 0.7 3.9 0.7-0.8 0.6 2 0.6 4.9 0.6 1.7 0.5-1.5 0.4 1.5 0.4-2.9 0.4-5 0.5 1.8 0.4 4.5 0.4-2.5 0.4-5.2 0.4-1.8 0.5 1.8 0.4 4.4 0.4 2 0.5-3.5 0.4-0.8 0.7 6.1 0.5 0.9 0.4-0.9 0.5-9.1 0.4-6.1 0.5 6 0.5 4.1 0.5-9.5 0.5-7.1 0.5 1 0.4-1 0.5 1.2 0.4 3 0.4-0.8 0.4-2.2 0.5 5.8 0.4-2.5 0.4-0.8 0.6 3.8 0.5 9.8 0.4 7.3 0.4-5.9 0.4-4.2 0.6 15 0.4 0.6 0.5-0.6 0.6-8.4 0.6-5.3 0.5 5.7 0.6 3.9 0.4-7.7 0.4-4.2 0.5 1.3 0.4-1.3 0.4 1.2 0.4 3.3 0.4 0.1 0.5-3.2 0.4 0.6 0.4 3.9 0.4 1 0.5-1 0.6-9.4 0.7-6.7 0.7-10 0.4-1.6 0.5 1.6 0.5 5.9 0.5 3.3 0.5-4.7 0.5-1.7 0.4 5.4 0.5 3.4 0.4-1.4 0.5 1.4 0.7-1.5 0.6-4.3 0.7-1.3 0.5 1 0.4-1 0.6 6.9 0.6 10 0.6 7 0.4-1.6 0.5 1.6 0.7-17.6 0.4 7.8 0.4 6.2 0.5-26.1 0.4 6.2 0.4 7.8 0.4-8.3 0.4-10 0.4-1.8 0.5 1.8 0.6 13.7 0.7 11.3 0.5-0.6 0.4 0.6 0.6-7.1 0.6-12 0.6-7 0.5 1.5 0.4-1.5 0.7 5.8 0.6 9.3 0.7 5.4 0.5-0.9 0.4 0.9 0.7-8.4 0.7-11.4 0.6-7.5 0.5 1.6 0.4-1.6 0.4 2.4 0.4 4 0.4-0.6 0.4-3.8 0.4 10.1 0.4-4.2 0.4-3 0.6 7.1 0.5 5 0.6 3.2 0.5-2.8 0.5-1.7 0.4 4.3 0.4 2.8 0.5-0.7 0.4 0.7 0.5-3.2 0.5-6.1 0.5 1.5 0.6 3.3 0.4-3.5 0.4-5.1 0.5-12.5 0.5-11.1 0.5 7.9 0.5 6.1 0.5-12.9 0.4-9.6 0.5 1.3 0.4-1.3 0.6 10.7 0.6 13.4 0.6 9.9 0.5-1.2 0.4 1.2 0.7-10.2 0.7-13.7 0.6-10.1 0.5 1.4 0.4-1.4 0.6-0.8 0.7 3.5 0.6-1.8 0.6 2.1 0.6 16.1 0.5 13.8 0.5-1.4 0.4 1.4 0.7-10.9 0.7-13 0.4-1.1 0.5 1.1 0.7 24.1 0.4-5.8 0.4-8.2 0.5 11.8 0.4 14.7 0.7 1.5 0.7-2 0.6 3.4 0.7-2.1 0.7 2.2 0.4 1.4 0.5-1.4 0.7-3.8 0.4-0.3 0.4 3.1 0.5-0.7 0.4-3.5 0.7-2.2 0.7 1.2 0.7-3.4 0.6 0.2 0.5 1.5 0.4-1.5 0.5 1.7 0.4 4.9 0.5-1.2 0.4-2.6 0.7 5.8 0.7 11.3 0.4-5.3 0.5-4 0.4 6.8 0.5 5.4 0.4-0.6 0.5 0.6 0.6-14.7 0.7-15.9 0.4-0.5 0.5 0.5 0.6 6.6 0.6 4.2 0.6 6.4 0.4 1.4 0.5-1.4 0.7-13 0.4 3.6 0.4 6.2 0.7-13.3 0.6-1.4 0.6-6.8 0.6-1.5 0.5 1.5 0.4-1.5 0.7 5.9 0.7 9.9 0.6 7 0.5-0.8 0.4 0.8 0.7-4.1 0.4 3.2 0.5-0.3 0.4-3.5 0.5-1.3 0.4 0.8 0.5-0.8 0.6-1 0.6 3.1 0.6-0.6 0.4-1.2 0.5 1.2 0.6 0.2 0.6-2.5 0.6 0.7 0.6-1.4 0.7-17.4 0.5 5.5 0.4 8.1 0.5-7.9 0.4-11.4 0.5-1.8 0.4 1.8 0.6 7.2 0.6 2.5 0.6 7.5 0.4 1 0.5-1 -0.3-5.1 0.4-0.9 0.4 0.9 0.6 5 0.5 1.7 0.4-1.3 0.5 1.3 0.7-4.9 0.7-7.6 0.4-0.6 0.5 0.6 0.5 7.9 0.6 5.1 0.5 8.2 0.5 1.4 0.4-1.4 0.7-4.2 0.4 0.2 0.4 3.4 0.5-0.9 0.5-3.8 0.6-4.7 0.6-1.7 0.6-4.7 0.5-1.6 0.4 1.6 0.6 4.7 0.5-0.1 0.5 4 0.5 0.8 0.4-0.8 0.6-7.1 0.5-3.3 0.5-7.1 0.5-1 0.4 1 0.7 1.7 0.6-1 0.6 1.9 0.8 8.3 0.7 5.7 0.4-0.7 0.5 0.7 0.7-6.1 0.4 3.7 0.4 1.2 0.5-5.2 0.4-1.8 0.8-0.2 0.7-3.1 0.5-0.9 0.4 0.9 0.6 3.9 0.5 1.1 0.5 3.6 0.5 1.4 0.4-1.4 0.5-26.5 0.4-1.4 0.5 1.4 0.6 1.2 0.6-1.5 0.6 3 0.6-0.8 0.4 1.3 0.4 3.8 0.5-0.7 0.5-2.7 0.6 2.1 0.5 3.9 0.5 7.6 0.4 5.6 0.5-5.4 0.4-1.8 0.7 11.8 0.4 1 0.5-1 0.7-11 0.8-8.7 0.6-3.6 0.6-6.5 0.6-3.9 0.5 1.1 0.4-1.1 0.6 7.2 0.5 9.8 0.5 7.1 0.5-1 0.4 1 0.6-4.8 0.5-6.7 0.4-1.7 0.5 1.7 0.5 3.4 0.5 0.7 0.6 3.5 0.4 1.4 0.5-1.4 0.5-8.2 0.5-6.2 0.5 1.2 0.4-1.2 0.6-0.4 0.6 2.9 0.6-1 0.6 2.3 0.5 0.6 0.4-0.6 0.5-7.1 0.5-5.4 0.5 1.6 0.4-1.6 0.4 0.2 0.4 3.8 0.5-0.2 0.5-2.9 0.6 1.4 0.5 3 0.7 5.2 0.7 2.9 0.5-0.8 0.4 0.8 0.6-1.2 0.5-5.3 0.6-2 0.4 0.7 0.5-0.7 0.6-0.8 0.7 3.3 0.7-0.7 0.4-1.3 0.5 1.3 0.6-2.9 0.6-6.9 0.6-2.2 0.8-3.9 0.7-6.1 0.5-1.7 0.4 1.7 0.7 1.4 0.7-1.7 0.7 1.6 0.6 5.8 0.7 3.8 0.6 9.4 0.5 12.3 0.5 1.5 0.4-1.5 0.7-30.8 0.4-0.8 0.5 0.8 0.7 10.3 0.4-1.6 0.4-4 0.4 3.9 0.4 6.8 0.5 1.1 0.4-1.1 0.8-7.4 0.7-4.7 0.7 0.7 0.7-3.4 0.7 1.8 0.7-2.6 0.6 0.3 0.5 0.6 0.4-0.6 0.7-1.3 0.6 3.5 0.6-2.2 0.6 1.3 0.5 4.5 0.4 1 0.5-3.2 0.4 0.3 0.6 4.6 0.5 0.7 0.4-0.7 0.8-7.1 0.7-4 0.8-3.9 0.7-6.1 0.4-1 0.5 1 0.5 6.1 0.5 4.4 0.5-1.1 0.4 1.1 0.5-5.6 0.6-6.9 0.4-0.6 0.5 0.6 0.6 4.9 0.7 2.5 0.7 5.1 0.4 0.7 0.5-0.7 0.5-19.8 0.6-5.2 0.7-2.2 0.6-6.1 0.7-7.5 0.8-5.5 0.4 1.2 0.5-1.2 0.7 4.8 0.6 9.1 0.7 4.4 0.4-0.8 0.5 0.8 0.5-5.9 0.5-7.6 0.5-1.6 0.4 1.6 0.7 7.5 0.6 2.4 0.7 7.4 0.5 1.2 0.4-1.2 0.7-9.8 0.7-7.1 0.7-9.6 0.7-3 0.8 0.4 0.4 1.5 0.5-1.5 0.6 14.6 0.4-6.3 0.4-3.8 0.5 10 0.4 6.9 0.5-0.9 0.4 0.9 0.5-11.1 0.4-13.5 0.8-8.2 0.7-4.8 0.5 0.7 0.4-0.7 0.5 4.5 0.6 7 0.4 0.8 0.5-0.8 0.5-8.9 0.5-4.2 0.6-9 0.4-1.3 0.5 1.3 0.4 6.2 0.4 4 0.4-4.4 0.4-3.2 0.7 9.9 0.5 1.1 0.4-1.1 0.6-5 0.5-2 0.6-5.1 0.4-0.6 0.5 0.6 0.5 2.1 0.5-2.6 0.6 1.5 0.4 1.3 0.5-1.3 0.4-18.8 0.5-1.6 0.4 1.6 0.6 10 0.5 5.5 0.5 9.5 0.5 1.3 0.4-1.3 0.4-53.5 0.7-12 0.4-1.6 0.5 1.6 0.6 17.2 0.4-4.9 0.5-6.8 0.4 8 0.5 11.5 0.4 0.5 0.5-0.5 0.7-28.3 0.7-25.3 0.5-3.8 0.4-6.3 0.5-1.3 0.4 1.3 0.6 22.3 0.5 18.7 0.7 11.1 0.4-4.8 0.4-3.3 0.5 7.5 0.5 5.4 0.4-1.5 0.5 1.5 0.4-13.4 0.5-16.4 0.4 5.8 0.4 8.2 0.7-27.1 0.5-8.8 0.6-13.2 0.5-8.9 0.4-3.4 0.5-6.7 0.4-1.4 0.5 1.4 0.5 23.6 0.5 21.7 0.5-0.9 0.4 0.9 0.5-58.4 0.2-18.3 0.4 0.6 0.5-0.6 0.5 3.1 0.5 4.4 0.4 0.6 0.5-0.6 0.6-2.2 0.6 2.1 0.7-1.2 0.5-6.1 0.6-3.5 -0.1-38.3 0.5 0.7 0.4-0.7 0.7-1.6 0.6 3.2 0.6-1 0.6 11 0.5 12.6 0.5 1.6 0.4-1.6 0.6-16.8 0.5-13.6 0.5-14.8 0.4-18.4 0.5-0.8 0.4 0.8 0.5 17.9 0.5 15.8 0.5-1.4 0.4 1.4 0.5-1.3 0.4-3 0.6-20.6 0.5-16.6 0.5-20.8 0.7-2.4 0.7 2.1 0.8-4 0.7 0.5 0.7-0.1 0.8-1.9 0.4-1.5 0.5 1.5 0.4 21.7 0.5 1.1 0.4-1.1 0.7-47.7 0.6-1 0.7 1.1 0.6-0.8 0.4-1.3 0.5 1.3 0.5 10.7 0.5 8.7 0.5-0.6 0.4 0.6 0.8-22.2 0.7-24.5 0.6-1.4 0.6 1.7 0.6-2.6 0.7 1 0.4 1.2 0.5-1.2 0.5 17 0.5 19.5 0.4 1.7 0.5-1.7 0.5-64.2 0.7-4.8 0.8-1.4 0.4 0.9 0.5-0.9 0.5 12.1 0.6 15.3 0.7 1.9 0.6 0.1 0.5 28.2 0.5 31.6 0.5 12 0.6 10.7 0.4-1 0.5 1 0.4-30.9 0.5-34.3 0.7-5.9 0.8-3.2 0.4 1.4 0.5-1.4 0.5 38.1 0.7 21.6 0.8 23.3 0.4 0.7 0.5-0.7 0.5-24.9 0.5-21.4 0.5 0.6 0.4-0.6 0.6 7.7 0.5 9.2 0.5 20.1 0.4 18 0.5-1.6 0.4 1.6 0.5-13.6 0.5-16.3 0.5-1.8 0.4 1.8 0.5 17.4 0.6 14.4 0.4-1.1 0.5 1.1 0.6-18.2 0.5 1.6 0.4-1.6 0.5 44.3 0.4-1 0.5 1 0.5-9.5 0.5-10.7 0.4-1.8 0.5 1.8 0.7 21.2 0.8 17.9 0.5 19.7 0.4-1.4 0.5 1.4 0.5-2.4 0.6-5.4 0.5-2.7 0.5 0.8 0.4-0.8 0.5 35.6 0.4-0.6 0.5 0.6 0.6-16.3 0.5 0.7 0.4-0.7 0.5 33.7 0.4-1.1 0.5 1.1 0.6-18.2 0.4 1.6 0.5-1.6 0.7 11.7 0.7 15.2 0.5 1.2 0.4-1.2 0.7-21.4 0.4-1.3 0.5 1.3 0.7 1.8 0.7-2 0.7 3.6 0.7-0.8 0.5 29.1 0.5 32.6 0.5 1.6 0.4-1.6 0.7-1.9 0.7 2.3 0.7-1.7 0.7-9.5 0.6-7.9 0.8-3 0.7-5.2 0.5-1.1 0.4 1.1 0.8 12.6 0.7 11 0.5 12 0.4 13.6 0.5 1 0.4-1 0.7-9.3 0.7-6.4 0.7-9.9 0.6-5.4 0.7-1.8 0.6-6.3 0.7-8.4 0.8-5.5 0.4 1.2 0.5-1.2 0.5 21.6 0.5 29.7 0.5-1.1 0.4 1.1 0.5 0.4 0.5-1.7 0.5-0.8 0.4 0.8 0.5 17.5 0.5 1.7 0.4-1.7 0.6-38.6 0.5-1.6 0.4 1.6 0.7 7.3 0.6 3.3 0.6 7.3 0.6 7.7 0.5 6.2 0.5-1.2 0.4 1.2 0.5-5.5 0.5-6.9 0.5-1 0.4 1 0.7 14.7 0.8 12.2 0.4-0.8 0.5 0.8 0.5-5.2 0.5-8.4 0.6-4.5 0.4 1.1 0.5-1.1 0.7-1.1 0.8 2.3 0.6 6.6 0.6 4.4 0.7 6.4 0.6 8.8 0.7 4.1 0.6 8.4 0.5 9.3 0.4 6.6 0.5-1.3 0.4 1.3 0.7-52.1 0.4 0.7 0.5-0.7 0.7 22.3 0.7 25.9 0.4 1.2 0.5-1.2 0.5-22.4 0.5-19 0.5 0.7 0.4-0.7 0.5 13.2 0.6 16.3 0.5 12.9 0.5-0.9 0.4 0.9 0.5-48.2 0.4 1.6 0.5-1.6 0.7 4.4 0.6 6.8 0.7 4.7 0.7 3.1 0.6 5.5 0.7 3 0.7 0.3 0.6 5.5 0.7 0.4 0.5-1.4 0.4 1.4 0.7-28.9 0.4 1.1 0.5-1.1 0.6 16.5 0.7 17.7 0.7 11.5 0.7 8.3 0.5-0.7 0.4 0.7 0.6-13.2 0.5-14.7 0.4-1.1 0.5 1.1 0.5 19.4 0.5 16.2 0.5-0.8 0.4 0.8 0.5-21 0.5-22.3 0.5-1.7 0.4 1.7 0.6 28.5 0.5 27.4 0.4-1.5 0.5 1.5 0.7-7.5 0.6-9.8 0.7-7.3 0.7-9.3 0.6-12 0.6-9.1 0.4 1.7 0.5-1.7 0.7 13.6 0.8 16.8 0.6 2.6 0.6-0.4 0.6 2.1 0.5 0.8 0.4-0.8 0.6-12.5 0.5-10.6 0.4 1.6 0.5-1.6 0.5 10.8 0.5 14.2 0.5 0.6 0.4-0.6 0.5-1.9 0.6 1.8 0.5-2.7 0.5-0.7 0.4 0.7 0.5 19.5 0.6 18.1 0.4-0.9 0.5 0.9 0.6-4.9 0.7-9.1 0.7-5.8 0.6-2.5 0.7-6.2 0.6-3.3 0.4 1.4 0.5-1.4 0.7 13.2 0.7 14.7 0.5 1.3 0.4-1.3 0.5-5 0.6-0.3 0.5-5.2 0.5-1.1 0.4 1.1 0.6 5.3 0.5 0.7 0.5 4.5 0.5 1.8 0.4-1.8 0.7-5 0.7-1.6 0.5 1.8 0.4-1.8 0.7 2.2 0.7 4.4 0.6 2 0.5-1.5 0.4 1.5 0.7-2.2 0.7-6.4 0.6-2.9 0.5 1.5 0.4-1.5 0.6 17.1 0.5 19.5 0.4 0.5 0.5-0.5 0.6-2.1 0.6-0.2 0.6-2 0.8-11.2 0.7-9.5 0.5 1.7 0.4-1.7 0.7 53 0.4-1.4 0.5 1.4 0.6-5.9 0.6-10.9 0.6-5.9 0.8-11.7 0.7-13.8 0.5-1.4 0.4 1.4 0.6 5.5 0.5 1.4 0.5 5.5 0.5 0.7 0.4-0.7 0.8-5.7 0.7-2.4 0.7 0.4 0.8-1.1 0.4-1.1 0.5 1.1 0.5 13.6 0.5 10.7 0.5-1.5 0.4 1.5 0.7-3.1 0.7-7.1 0.7-3.8 0.6-1.8 0.6-5 0.6-1.3 0.5 0.6 0.4-0.6 0.7 18.2 0.4-1.6 0.5 1.6 0.5-9.2 0.5-11.2 0.5-1 0.4 1 0.6 1.4 0.6-1.9 0.6 1.8 0.5 0.8 0.4-0.8 0.2-21.9 0.7-1.5 0.7 0.5 0.7-2.2 0.7-0.1 0.4 1.3 0.5-1.3 0.5 5.7 0.6 9.2 0.5 9.8 0.5 8.6 0.6-1.1 0.6 2.1 0.7-1 0.4-6 0.5-4.1 0.4 1 0.5-1 0.5 10.2 0.6 12.7 0.5 9.8 0.4-0.8 0.5 0.8 0.5-12.9 0.5-14.2 0.5-0.7 0.4 0.7 0.8 3 0.7-0.5 0.5 14.8 0.4 17.6 0.5 1.7 0.4-1.7 0.5-13.6 0.5-10.5 0.5 1.5 0.4-1.5 0.8 7.1 0.7 8.8 0.6 7.6 0.5 6.3 0.5-1.7 0.4 1.7 0.7-5.3 0.7-8.1 0.5-1.4 0.4 1.4 0.6 7 0.5 5.5 0.4-1.6 0.5 1.6 0.5-1.3 0.5-4.5 0.6-1.8 0.4 0.8 0.5-0.8 0.4 0.9 0.5 4.4 0.4-0.6 0.5-3.2 0.6 4.7 0.6 6.3 0.5 7.6 0.5 0.7 0.4-0.7 0.5-25.9 0.4-1.5 0.5 1.5 0.6 13.8 0.7 10.7 0.7 14 0.4 0.7 0.5-0.7 0.5-22.9 0.5-21.4 0.5 1.1 0.4-1.1 0.7 7.5 0.7 9.6 0.5 0.8 0.4-0.8 0.6-0.9 0.5 1.6 0.5-1.3 0.5-0.7 0.4 0.7 0.6 8.2 0.5 7 0.4-1.1 0.5 1.1 0.5-9.9 0.5-11.2 0.4-1.5 0.5 1.5 0.5 15.9 0.5 13 0.5-1.5 0.4 1.5 0.7-9.5 0.7-13.8 0.6-10.4 0.5 1 0.4-1 0.7 3.6 0.7 5.8 0.5 0.6 0.4-0.6 0.6-1.9 0.5 1.3 0.4 0.6 0.5-0.6 0.5 2 0.6 7.1 0.5 2.5 0.4-1.8 0.5 1.8 0.7-0.3 0.7-3.1 0.7 0.8 0.7-9.1 0.7-12.6 0.5-1.5 0.4 1.5 0.7 12.3 0.7 9.8 0.5-1.3 0.4 1.3 0.8-1 0.7-3.3 0.7-6.8 0.6-2.2 0.7-6.4 0.7-3.9 0.7-1.4 0.5 1.1 0.4-1.1 0.7 10.2 0.7 14.2 0.6 10.3 0.5-1.8 0.4 1.8 0.6-4.6 0.5-8.6 0.6-5.1 0.4 1.5 0.5-1.5 0.7 13.1 0.7 14.8 0.4 1.2 0.5-1.2 0.5-15.1 0.5-12.8 0.5 1.5 0.4-1.5 0.7 10.4 0.7 11.7 0.5 0.8 0.4-0.8 0.7-8.4 0.7-5.6 0.6-9 0.5-0.8 0.4 0.8 0.7 13.9 0.7 9.8 0.7 14.4 0.5 5.1 0.6 3 0.4-0.8 0.5 0.8 0.6-10.6 0.6-14.3 0.6-10.8 0.5 1.1 0.4-1.1 0.6-0.2 0.6 2.7 0.6-1.9 0.6 1.5 0.7 4.5 0.6-0.3 0.7 3.8 0.4 1.4 0.5-1.4 0.4-9.8 0.4-6.3 0.4 7.5 0.4 3.9 0.6-14.4 0.5-0.6 0.4 0.6 0.8 11.2 0.7 7.9 0.4-0.7 0.5 0.7 0.7-4.7 0.8-8.1 0.4-1.5 0.5 1.5 0.7 11.2 0.7 9.5 0.5-1.4 0.4 1.4 0.5-11.9 0.5-14.4 0.5-1.1 0.4 1.1 0.7 7 0.6 3.1 0.7 6.7 0.4 1.4 0.5-1.4 0.7-5.7 0.4 0.3 0.4 3.1 0.7-5.7 0.5 0.5 0.4-0.5 0.8 3.4 0.7 6.2 0.5 1.4 0.4-1.4 0.7-14.4 0.4-1.6 0.5 1.6 0.7 31 0.4 1.2 0.5-1.2 0.7-17.5 0.8-15.1 0.4 0.7 0.5-0.7 0.7 11.2 0.7 12.7 0.5 1.7 0.4-1.7 0.8-3.8 0.7-2.7 0.5 1.7 0.4-1.7 0.5 9.3 0.5 10.7 0.4 1 0.5-1 0.4-12.1 0.4-9.4 0.4 7.2 0.4 6 0.7-20.4 0.4-1.1 0.5 1.1 0.5 4.5 0.5 0.4 0.6 3.9 0.6 1.9 0.7-0.3 0.6 1.7 0.4 1.7 0.5-1.7 0.7-2.8 0.8-1.4 0.4 1.4 0.5-1.4 0.6 16.3 0.4-7.2 0.4-4.5 0.4 10.2 0.4 8.3 0.5-1.2 0.4 1.2 0.4-5.1 0.5-7.9 0.4 2.7 0.4 4.2 0.6-11.4 0.4 0.8 0.5-0.8 0.4 0.7 0.4 4.2 0.3-0.8 0.4-2.4 0.8 4.8 0.4-1.2 0.5 1.2 0.7-2.2 0.7-4.3 0.5-1.5 0.4 1.5 0.8 14.5 0.4-2.5 0.4-5.8 0.7 14.5 0.4-1.5 0.5 1.5 0.7-9.8 0.8-12.5 0.4-1.2 0.5 1.2 0.7 17.3 0.7 16.1 0.5-1.3 0.4 1.3 0.6-2.7 0.5-4.7 0.4 0.6 0.5 3.6 0.8-6.4 0.5-9.3 0.6-11.3 0.4-0.7 0.5 0.7 0.7 14.1 0.8 12.1 0.4-1.6 0.5 1.6 0.7-12.7 0.7-15.1 0.5-1.4 0.4 1.4 0.8 8.6 0.7 7.4 0.5-0.9 0.4 0.9 0.7-1.6 0.8-3.4 0.4-1.1 0.5 1.1 0.7 22.8 0.4 0.7 0.5-0.7 0.6-1.9 0.6 2.5 0.7-1.1 0.4-8.4 0.4-7.3 0.4 6 0.4 4.2 0.8-15.1 0.7-8.7 0.7-6.4 0.5 1.3 0.4-1.3 0.6 9.7 0.6 12.8 0.4 0.6 0.5-0.6 0.6-2 0.7 3.1 0.7-3.1 0.7 0.9 0.7-11.9 0.5 5.9 0.5 3.2 0.5-7.9 0.5-6 0.4 0.8 0.5-0.8 0.7 7.9 0.8 8.9 0.4 1.8 0.5-1.8 0.7-13.6 0.7-10.3 0.5 1.1 0.4-1.1 0.7 31.8 0.5-1.3 0.4 1.3 0.7-33.4 0.5 1.2 0.4-1.2 0.6 2.4 0.6 5.8 0.6 3.1 0.4-1.5 0.5 1.5 0.7-8.4 0.8-10 0.4-1.3 0.5 1.3 0.6 8.5 0.7 4.3 0.6 8.7 0.5 1.4 0.4-1.4 0.7-3.2 0.8-1.7 0.4 1.6 0.5-1.6 0.7 14.4 0.4-1 0.5 1 0.6-9.7 0.4 4 0.4 1.6 0.4-7.1 0.4-4 0.5 1.8 0.4-1.8 0.7 3.9 0.6 6.3 0.7 3.4 0.7 6.7 0.5-3.1 0.4-1.1 0.6 5.5 0.5 2.3 0.4-1 0.5 1 0.7-8.2 0.7-11.7 0.5-1.5 0.4 1.5 0.6 1.7 0.6-1.9 0.5 3.5 0.6-0.8 0.5-0.7 0.4 0.7 0.7-1.9 0.8-3.8 0.4-0.7 0.5 0.7 0.7 7.2 0.8 4.1 0.4-1.1 0.5 1.1 0.6-13.6 0.4 6.2 0.4 4.3 0.4-9.1 0.4-6.2 0.5 1.8 0.4-1.8 0.8 6.9 0.7 8.3 0.4 1.4 0.5-1.4 0.7-6.1 0.8-4.5 0.4 1.5 0.5-1.5 0.5-1.4 0.6 3.2 0.6-2.7 0.5 1.4 0.5 0.7 0.4-0.7 0.5-12.5 0.5-9.2 0.5 0.7 0.4-0.7 0.7 46 0.5-1.2 0.4 1.2 0.6 0.6 0.6-3.8 0.6 0.8 0.6-2.4 0.4-10 0.5-7.3 0.5 8.3 0.4 5.7 0.5-9.6 0.4-7.7 0.5 1 0.4-1 0.7-0.9 0.7 3.9 0.7-1.4 0.6 1.6 0.7 9.9 0.6 5.4 0.7 10.1 0.4 1.3 0.5-1.3 0.4-6.7 0.4-3.4 0.4 4.8 0.4 3 0.6-8.9 0.5-0.9 0.4 0.9 0.8 5.6 0.7 2.4 0.4-0.8 0.5 0.8 0.7-13.2 0.4 5.4 0.3 3.9 0.5-7.9 0.4-6.5 0.4 1.6 0.5-1.6 0.7 8.4 0.7 11.5 0.5 0.8 0.4-0.8 0.6-18.9 0.6-16 0.4 0.7 0.5-0.7 0.6 17.8 0.4-8 0.4-5.3 0.4 10.2 0.4 9.1 0.4 4.3 0.4 6.9 0.4-2.8 0.4-5.7 0.7 10.8 0.4-1.2 0.5 1.2 0.4-7.8 0.4-10.5 0.4 4.7 0.4 6.1 0.8-17.1 0.6 0.6 0.6-3.2 0.7 1 0.4 1 0.5-1 0.7 9.6 0.4-1.5 0.5 1.5 0.5 0.4 0.6-2.2 0.5-1.5 0.4 1.5 0.7 16 0.5 1.5 0.4-1.5 0.7-13.2 0.4 3.7 0.4 5.6 0.7-13.6 0.6 0.9 0.5-3.8 0.6 0.8 0.4 1.1 0.5-1.1 0.2 15.7 0.4-1.5 0.5 1.5 0.6 0.2 0.6-3.1 0.6 1.4 0.6-2.9 0.6 0.3 0.5 0.9 0.4-0.9 0.7 1.1 0.8 4.5 0.6 2.1 0.6-1.8 0.6 3.3 0.6-0.4 0.4-1.1 0.5 1.1 0.7-16.3 0.5 5.5 0.4 4 0.6-11 0.5-8.4 0.7-1.3 0.7-3.5 0.5-1 0.4 1 0.6 4.4 0.5 1.3 0.5 3.9 0.6 5.6 0.5 1.3 0.5 5.7 0.7 6.1 0.6 3.3 0.6 5.7 0.5 1.8 0.4-1.8 0.8-8.9 0.7-6.2 0.5 0.9 0.4-0.9 0.6 0.3 0.5 3 0.6-1.1 0.6 1.9 0.4 1.6 0.5-1.6 0.6-2.2 0.4-0.3 0.4 2.5 0.6-3.6 0.4 2.1 0.4 0.3 -0.1-3.1 0.4 0.1 0.4 2.2 0.4-3.5 0.4 1.8 0.4 0.6 0.5-2.1 0.5-0.4 0.6-1.5 0.6-5.5 0.7-1 0.4 1 0.5-1 0.4 4.5 0.5 8.1 0.5-3.4 0.4-5.1 0.5 5.6 0.4 7 0.7 2.6 0.7-1.6 0.6 2.9 0.7 0.1 0.5-1.1 0.4 1.1 0.6-3.5 0.6-6.9 0.6-4 0.5 0.7 0.4-0.7 0.7 12.8 0.4-6.1 0.4-3.5 0.4 8.1 0.4 5.5 0.4-1.3 0.5 1.3 0.5-4.3 0.5-7.4 0.6-3.4 0.6 0.7 0.6-2.6 0.7 2.6 0.6-2.7 0.6 0.4 0.7-1.5 0.6-4.9 0.7-1.6 0.4 1.3 0.5-1.3 0.4 7.1 0.4 8.8 0.6-5.8 0.5-7.5 0.6 7.8 0.5 9.5 0.5 1.3 0.4-1.3 0.7-7 0.6-3.5 0.6-7.8 0.7-3.5 0.6 1.3 0.7-3.4 0.4-1 0.5 1 0.5 13.1 0.6 9.8 0.6-8.2 0.5-5.8 0.4 11.4 0.4 8.4 0.5-1.8 0.4 1.8 0.5-9.5 0.5-10.8 0.5 5.5 0.6 8.5 0.5-8.7 0.5-12.1 0.4-1 0.5 1 0.4 3.3 0.4 1.3 0.4-2.2 0.4-1 0.3 6.7 0.4-0.7 0.4-4 0.4 1.9 0.4 3.5 0.6 9 0.7 7.3 0.6 9.1 0.5 1.2 0.4-1.2 0.4-7.1 0.4-4.3 0.5 5 0.4 1.7 0.5-7.8 0.5-5 0.6 0 0.7-3 0.6 2.7 0.6-3.8 0.7 0.9 0.4-3.8 0.4-7.2 0.5 1.8 0.4 5 0.7-10 0.7 1.1 0.7-3.2 0.7 1.7 0.7-2.7 0.7 1.5 0.4 0.6 0.5-0.6 0.7 17.2 0.7 19.3 0.5 1.2 0.4-1.2 0.8-9.2 0.7-6.8 0.5 1 0.4-1 0.6 6.8 0.6 10.1 0.6 7 0.4-1.4 0.5 1.4 0.4-12.1 0.4-13.2 0.4 6 0.4 8 0.4-11.2 0.4-14 0.5-4.6 0.4-2.4 0.5 2.7 0.5 1.6 0.4-4.6 0.4-2.2 0.5 1.7 0.4-1.7 0.7 4.4 0.8 6.8 0.4 1.5 0.5-1.5 0.6-4.3 0.5-2.2 0.6 3.8 0.5 0.1 0.4-3.9 0.4-1.6 0.5 1.6 0.4-1.6 0.8 10.2 0.7 12.9 0.5 1.6 0.4-1.6 0.6-13.5 0.4 4.4 0.4 6.4 0.4-6.1 0.5-9.5 0.4-1.8 0.5 1.8 0.7 5.7 0.7 2.3 0.5-1.6 0.4 1.6 0.8-1.4 0.7-3.5 0.5-0.9 0.4 0.9 0.8 10.5 0.7 7.1 0.4-1.6 0.5 1.6 0.6-10.9 0.4 5 0.4 2.3 0.4-7.4 0.5-5 0.4 0.6 0.5-0.6 0.5 4.1 0.4 6.5 0.5-3.1 0.5-4.3 0.4 3.6 0.4 5.9 0.7 1.3 0.7-1.7 0.7 2.5 0.7-1.3 0.7 1.4 0.4 1.5 0.5-1.5 0.6-13.5 0.5-10.9 0.5 0.7 0.4-0.7 0.6 15.3 0.4-8.7 0.4-5.3 0.4 25.5 0.4-6.4 0.4-7.6 0.4 7.7 0.4 9.7 0.5 1.5 0.4-1.5 0.7-13 0.4 3.6 0.3 6.2 0.5-5.8 0.4-8.5 0.4-1.7 0.5 1.7 0.6 7.5 0.4-1.8 0.4-3.2 0.4 3.2 0.4 5.5 0.5 0.9 0.4-0.9 0.7-6.1 0.6-2.3 0.7-5.9 0.6-5.3 0.6-1.1 0.7-5.6 0.4-1.1 0.5 1.1 0.6 6.7 0.7 3.2 0.6 6.8 0.7 19 0.5-6.3 0.4-7.7 0.4 8.1 0.4 11.5 0.4 1.1 0.5-1.1 0.6-10.9 0.6-7.1 0.6-11.4 0.4-1.6 0.5 1.6 0.7 11.4 0.8 7.8 0.4-1.5 0.5 1.5 0.6-12.5 0.4 6.3 0.4 3.8 0.4-8.1 0.4-6 0.5 1.5 0.4-1.5 0.7-0.6 0.6 2.6 0.6 0.1 0.7 4.6 0.6 8.5 0.7 4.4 0.4-1 0.5 1 0.6-9.4 0.4 5.1 0.4 1.9 0.4-6.7 0.4-3.7 0.5 1.7 0.4-1.7 0.7 9.5 0.4-4.2 0.4-2.3 0.4 6.3 0.4 3.5 0.4-1.2 0.5 1.2 0.7-15.3 0.8-17.3 0.4-0.9 0.5 0.9 0.6 8.9 0.7 5.9 0.6 9.8 0.5 3.1 0.5 1.3 0.4-2.4 0.5-0.4 0.4 2.9 0.4 1.1 0.5-1.2 0.4 1.2 0.6-18.6 0.4 6.8 0.4 4.5 0.5-12.3 0.4-9 0.4 0.6 0.5-0.6 0.7 9.8 0.7 11.7 0.5 1.6 0.4-1.6 0.7-20.7 0.5-1.5 0.4 1.5 0.6 11.6 0.4-5.6 0.4-6.8 0.6 20.4 0.4-7.7 0.4-5.4 0.7 12.6 0.5 5.1 0.5 1.6 0.5-3.5 0.4 0.1 0.4 4 0.4 2.2 0.5-1.4 0.4 1.4 0.5-9.5 0.5-11.5 0.5 6.4 0.4 7.6 0.4-8.3 0.5-11.6 0.6-1.4 0.7 1.8 0.7-3.5 0.7 0.4 0.4 1.6 0.5-1.6 0.6 8.5 0.7 12.4 0.6 7.9 0.5-1.4 0.4 1.4 0.6-24.9 0.6-26.5 0.7-1.4 0.7-0.2 0.5 0.7 0.4-0.7 0.5 10.1 0.5 12.7 0.4-6.3 0.5-7.7 0.4 10 0.4 11.2 0.4 11.3 0.5 9.1 0.4-7.6 0.5-6.4 0.5 11.6 0.4 9.8 0.5-1.3 0.4 1.3 0.5-8.3 0.4-10 0.4 5.3 0.4 8.4 0.3-23.1 0.4 7.8 0.4 6.2 0.7-17.2 0.7-1.4 0.6 1.7 0.7-1.4 0.4-1.6 0.5 1.6 0.5 10 0.5 8.8 0.5-8.4 0.4-5.2 0.8 16.4 0.5 5.6 0.6 4.2 0.5-5.4 0.6-1.8 0.4 5.5 0.4 3.1 0.5-1.5 0.4 1.5 0.7-22.9 0.4 8.2 0.5 5.8 0.4-13.6 0.4-10.8 0.6-3.1 0.7-6.7 0.6-3.7 0.5 0.7 0.4-0.7 0.8 4.8 0.7 8.2 0.4 0.8 0.5-0.8 0.7-0.6 0.4-0.8 0.5 0.8 0.7 14.3 0.8 13 0.4-1.5 0.5 1.5 0.4-0.5 0.4-3.6 0.5 0.7 0.5 1.8 0.4-0.4 0.5-3.7 0.4-11.5 0.4-10.3 0.5 8.2 0.5 5.8 0.4-12.3 0.5-10 0.4 0.9 0.5-0.9 0.7 18.6 0.8 20.5 0.4 1.2 0.5-1.2 0.6-2.2 0.7 1.8 0.7-2.4 0.7 0.2 0.6-6.7 0.6-11.1 0.7-7.6 0.4 0.7 0.5-0.7 0.7 3.8 0.7 7.3"/>
<path stroke="#000000" d="M183 899.1l0.6-0.8 0.6 2.2 0.7-2.8 0.6 3.1 0.6-1.7 0.7 34.4 0.5-13.4 0.4-11.7 0.4 19.4 0.5 17.8 0.6 2.2 0.7 4.5 0.7 2.1 0.4-1.5 0.5 1.5 0.4-23.3 0.4-24.8 0.5 16.5 0.5 18.8 0.5-24.2 0.4-25.8 0.5-0.9 0.4 0.9 0.5 38.3 0.6 34.6 0.5 38.8 0.4 1.3 0.5-1.3 0.5-37.8 0.5-35.8 0.5-38.1 0.5-0.7 0.4 0.7 0.7 2.9 0.6-1.9 0.7 4.3 0.6-1.8 0.6 2.8 0.4 51.8 0.4 48.7 0.5-1.7 0.4 1.7 0.5-15.7 0.5-19.7 0.6-16.4 0.4 1.6 0.5-1.6 0.3 29.1 0.4 31.3 0.4-14.5 0.4-17.6 0.7 57.8 0.5-1.3 0.4 1.3 0.7-26.8 0.7-29.9 0.7-26.9 0.4 1.1 0.5-1.1 0.3 49.3 0.5-0.9 0.4 0.9 0.5-19.8 0.5-22.8 0.5-19 0.5 1.6 0.4-1.6 0.6 16.3 0.5 21.3 0.5 16.7 0.4-1.2 0.5 1.2 0.5-27.3 0.5 16.2 0.4 13.2 0.4-41.1 0.4 9.1 0.4 10.6 0.5-11.8 0.4-14.6 0.4-1.1 0.5 1.1 0.7 18.4 0.7 16.2 0.6 18.4 0.5 1.2 0.4-1.2 0.6-21 0.5-19.3 0.5 13.8 0.5 11.6 0.7-34.4 0.5-1.3 0.4 1.3 0.4 43.3 0.4 41.3 0.4 3.8 0.5 5.2 0.4-1.8 0.5-4 0.7 8 0.4-0.8 0.5 0.8 0.4-18.5 0.4-20.2 0.4 13.4 0.4 14.9 0.3-60 0.5 23.5 0.4 21.5 0.7-44.7 0.4-0.7 0.5 0.7 0.5 20.6 0.5 16.2 0.5 21.1 0.5 1 0.4-1 0.7-10.6 0.7-5.9 0.6-10.9 0.5-0.6 0.4 0.6 0.5 21.7 0.5 20.2 0.4-17.4 0.5-14.2 0.5 22.4 0.4 19.2 0.5-1.4 0.4 1.4 0.5-29.6 0.5-32.1 0.6-29.3 0.4 1.6 0.5-1.6 0.5 32.8 0.5 36.1 0.5 1.6 0.4-1.6 0.5-43.8 0.6-42.2 0.4 1.6 0.5-1.6 0.4 20 0.4 22 0.4 1.5 0.5-1.5 0.6-42.5 0.7-41.1 0.4 1.7 0.5-1.7 0.4 65.6 0.4 68.2 0.5 1.4 0.4-1.4 0.4-24.8 0.5-23.1 0.4 13.9 0.5 11.3 0.3-23.8 0.4-21.3 0.5 1.3 0.4-1.3 0.4 37.2 0.4-1 0.5 1 0.6-13.4 0.7-17.2 0.7-13.9 0.4 0.9 0.5-0.9 0.4 27.2 0.4 28.6 0.4-17.8 0.4-20.6 0.7 51.5 0.4-0.6 0.5 0.6 0.7-25.9 0.4 7.9 0.4 6.3 0.4-14.5 0.4-13.3 0.4 1.3 0.5-1.3 0.6 44.7 0.6 47.2 0.7 3.1 0.7 0.1 0.7 3.6 0.6 0.8 0.5-1 0.4 1 0.6-35 0.6-36.3 0.6 21.9 0.6 23.1 0.4-29.9 0.5-33.6 0.5-0.7 0.4 0.7 0.5 18.2 0.5 15.5 0.5 18.2 0.5 1.3 0.4-1.3 0.5-35.9 0.5-34.5 0.5 23.6 0.5 21.4 0.4-33.8 0.4-31.8 0.5 1.6 0.4-1.6 0.5 41 0.5 42.2 0.5-21.6 0.5-23.4 0.4 37.4 0.4 39.8 0.4 1.8 0.5-1.8 0.5-18.4 0.5-15 0.5-18.4 0.5-1.4 0.4 1.4 0.4 30.2 0.4 28.3 0.5-23.1 0.4-21.9 0.4 31.3 0.5 29 0.4-1.6 0.5 1.6 0.7-45.3 0.4 24 0.4 21 0.5-62.9 0.4 12.6 0.4 14.3 0.6-33.6 0.5-1.5 0.4-4.4 0.6 0.3 0.6 3.5 0.6-2.5 0.5-4.2 0.5-1.3 0.4 1.3 0.7 28.9 0.7 26 0.7 28.7 0.4 0.9 0.5-0.9 0.6-26 0.5-24.4 0.5 20.8 0.5 18.8 0.3-60.8 0.5 17.4 0.5 18.5 0.4-20.5 0.4-22.5 0.5-0.6 0.4 0.6 0.5 51.3 0.6 48.2 0.4-1.3 0.5 1.3 0.5-30 0.5-31.2 0.6 18.4 0.6 21.5 0.5-29.7 0.5-31.4 0.5-1.1 0.4 1.1 0.7 20.5 0.7 17.1 0.6 20.1 0.4 5.2 0.4 3.4 0.4-4.2 0.5-2.1 0.4 5.2 0.4 3.8 0.5-1.6 0.4 1.6 0.6-12.3 0.5-13.7 0.6 8.7 0.5 11.8 0.5-11.8 0.5-13.5 0.8-1.4 0.7 1.4 0.7-2.1 0.8 0.8 0.7-1.2 0.6-25.5 0.7-23.6 0.4 1.1 0.5-1.1 0.4 21.1 0.4 24.5 0.4-16.2 0.4-19.6 0.6 43.2 0.5-0.6 0.4 0.6 0.4-70.1 0.4 1.2 0.5-1.2 0.6 20.1 0.6 21.5 0.5-14.7 0.6-17.9 0.4 17.9 0.5 19.8 0.5 40.7 0.6 37.4 0.6-23.2 0.5-20.7 0.5 37.5 0.5 36.1 0.5-0.5 0.4 0.5 0.5-25.9 0.5-27.6 0.5 20.9 0.5 24.1 0.4-72.9 0.5 23.2 0.4 21.8 0.7-46 0.5-1.1 0.4 1.1 0.5 6.9 0.5 3.9 0.6 6.8 0.4 1.5 0.5-1.5 0.4-13.6 0.5-12 0.5 8.8 0.5 5.9 0.4-13.3 0.4-10.5 0.5 1.7 0.4-1.7 0.5 16.5 0.6 20.6 0.5 15.9 0.4-1.1 0.5 1.1 0.5-27.1 0.5-29.6 0.5-1.3 0.4 1.3 0.6 18.3 0.6 15 0.6-12.9 0.6-9.6 0.4 15.7 0.5 14.3 0.4-0.7 0.5 0.7 0.3-24.9 0.5 1.2 0.4-1.2 0.4 13.2 0.4 16.2 0.5-7.1 0.5-9.5 0.5 15 0.5 16.7 0.4 1.8 0.5-1.8 0.5-8.4 0.5-5.9 0.5-8.2 0.5-0.6 0.4 0.6 -0.1 36 0.4 0.5 0.5-0.5 0.5-32.8 0.5-29.8 0.5 23.2 0.4 21.8 0.4-29.6 0.4-26.7 0.5 1.7 0.4-1.7 0.7 20 0.7 25.1 0.7 20.2 0.4-1.1 0.5 1.1 0.3-15.7 0.4-18.4 0.5 12.5 0.5 15.6 0.5-17.8 0.5-20.7 0.5-0.9 0.4 0.9 0.5 21.1 0.4 18.1 0.5-12.1 0.5-10.8 0.4 21.2 0.5 19.2 0.5-1.8 0.4 1.8 -0.2-49.3 0.5 1.1 0.4-1.1 0.7 13 0.5-7.4 0.4-5.7 0.6 18.9 0.5-2.4 0.4-5.3 0.6 9.9 0.4 14.9 0.4 17.1 0.5 0.6 0.4-0.6 0.7-1.5 0.7 0.5 0.7-2.8 0.8 1.7 0.7-3.5 0.7 1.5 0.7-4.1 0.7 0.6 0.5-16 0.6-18.2 0.5 7.2 0.6 10.8 0.5-15 0.5-17.9 0.5-1.2 0.4 1.2 0.5 19.1 0.5 17.4 0.4-15.5 0.5-13.2 0.5 57.4 0.4-19.6 0.5-23.1 0.7 39.1 0.4-1.2 0.5 1.2 0.4-42.8 0.4-44.3 0.4-6.5 0.4-4.5 0.4 6.8 0.4 4.5 0.3-13.7 0.5 2.3 0.4 3.8 0.4-3.1 0.5-5.7 0.4-0.6 0.5 0.6 0.4 33.2 0.4 30.1 0.4-22.5 0.4-21 0.2 78.5 0.4-21.8 0.4-23.2 0.4 32.3 0.5 34.7 0.4 1 0.5-1 0.4-17.5 0.5-14.3 0.5 12.9 0.4 10.6 0.2-46.1 0.4 17.8 0.5 20.1 0.5-19.1 0.6-22.3 0.4-0.8 0.5 0.8 0.5 14.7 0.5 10.3 0.5 14.6 0.5 1.1 0.4-1.1 0.4-18.7 0.4-15.2 0.5 18.3 0.4 17.2 0.7-51.1 0.5 10.8 0.4 14.2 0.7-27.3 0.5 0.7 0.4-0.7 0.5 4.1 0.4 7.4 0.5-3.3 0.5-4.8 0.4 5.2 0.5 6.5 0.4 1.2 0.5-1.2 0.5-13.6 0.5-10.1 0.5 0.9 0.4-0.9 0.5 18 0.5 20.3 0.5-12.1 0.5-14.7 0.4 17.5 0.4 19.1 0.5 1.3 0.4-1.3 0.6-21 0.5-19.9 0.6 15.8 0.5 13.6 0.6-21.7 0.5-18.6 0.4 1 0.5-1 0.4 27.1 0.5 28.7 0.4-21.9 0.4-23.1 0.2 68.4 0.4-23.9 0.4-21.1 0.4 27 0.4 24.9 0.4-1.7 0.5 1.7 0.5-26 0.5-29.6 0.5-26.8 0.5 1.7 0.4-1.7 0.7 22.3 0.5-9 0.4-5.6 0.5 13.7 0.4 10.6 0.6 8.6 0.6 11.8 0.6-5.2 0.6-8 0.4 7.3 0.4 10.2 0.5 1.4 0.4-1.4 0.4-11.9 0.4-9.3 0.4 6.4 0.4 4.6 0.7-20.8 0.5-0.7 0.4 0.7 0.7 7.3 0.7 3.1 0.6 7.2 0.5 0.6 0.4-0.6 0.6-18.7 0.5-16 0.4 1.3 0.5-1.3 0.7 9.5 0.7 13.5 0.6 9.2 0.5-1.6 0.4 1.6 0.7-12.6 0.7-16.2 0.7-12 0.4 1.2 0.5-1.2 0.5 16.7 0.5 19.2 0.5 1.1 0.4-1.1 0.7-13.7 0.7-9.1 0.7-13.1 0.4-1.7 0.5 1.7 0.4 25.5 0.4 23.6 0.5-23.9 0.4-21.1 0.2 68.6 0.5-20.8 0.5-24.2 0.5 25.9 0.6 28.8 0.4 1 0.5-1 0.3-19.2 0.4-18 0.4 11 0.4 8.7 0.7-35.5 0.5-1.1 0.4 1.1 0.6 20.8 0.5 16.2 0.5 20.9 0.4 1.8 0.5-1.8 0.5-16.9 0.4-14.6 0.5 11.5 0.5 9.4 0.4-16.3 0.5-13.9 0.4 1.5 0.5-1.5 0.6 11.3 0.7 13.4 0.7 11.2 0.4-0.7 0.5 0.7 0.3-73.8 0.5 0.9 0.4-0.9 0.4 16.5 0.4 18.5 0.5-12.3 0.4-15.8 0.3 52 0.4-18.8 0.4-17.2 0.7 36.2 0.5 1.7 0.4-1.7 -0.1-25.5 0.5-0.9 0.4 0.9 0.7 11.5 0.7 8.2 0.7 12.4 0.7 0.7 0.7-1.3 0.7 1.3 0.6-1.3 0.7 1.7 0.7-1.9 0.7 0.8 0.4-15.8 0.5-17.3 0.6-17.2 0.5 4.5 0.4 5.7 0.4-8.8 0.5-11.6 0.4-0.6 0.5 0.6 0.7 6.8 0.7 3.9 0.7 7.2 0.7 2 0.6-2.6 0.7 1.7 0.5 1.4 0.4-1.4 0.6-16 0.6-11.6 0.6-16.1 0.7-14.4 0.7-10.5 0.7-13.5 0.4-0.6 0.5 0.6 0.4 37.9 0.4 35.3 0.4-23.6 0.3-21.4 0.7 69.2 0.5 1.2 0.4-1.2 0.5-27.7 0.4-24.6 0.5 19.1 0.5 17.7 0.5-29.8 0.5-26.9 0.5 1.1 0.4-1.1 0.4 3.5 0.4 5.6 0.4-2 0.4-3.6 0.7 8.7 0.4-0.9 0.5 0.9 0.7-17.7 0.4 7 0.4 4.4 0.3-10.5 0.4-8 0.5 1.7 0.4-1.7 0.7 25 0.4-10 0.4-8.3 0.4 14.5 0.4 11.5 0.4-0.6 0.5 0.6 0.5-3.7 0.6-7.3 0.5-4.3 0.5 1.6 0.4-1.6 0.4 13.9 0.5 17.4 0.5-9.6 0.5-11.4 0.5 15.1 0.5 18.3 0.4 0.8 0.5-0.8 0.7-26.4 0.4-0.9 0.5 0.9 0.5 30.9 0.5 29.5 0.5-16.3 0.5-14.2 0.4 28.1 0.5 26.8 0.4-1.4 0.5 1.4 0.5-29.5 0.5-32.1 0.6 21.4 0.5 23.6 0.6-28.7 0.5-31.6 0.4-0.8 0.5 0.8 0.4 21.3 0.4 19.5 0.5-13.7 0.4-11.6 0.5 22.3 0.5 21.2 0.7 6.9 0.6 10.9 0.7 8 0.5-0.7 0.4 0.7 0.7-20.3 0.7-23.5 0.4-1.5 0.5 1.5 0.6 19.9 0.7 17.6 0.4-1.1 0.5 1.1 0.5-14.1 0.5-15.5 0.4-0.5 0.5 0.5 0.6 13.6 0.7 11.2 0.4-0.8 0.5 0.8 0.5-4.3 0.5-7.6 0.6-3.4 0.4 0.6 0.5-0.6 0.6 12 0.7 15.5 0.6 11.5 0.5-1.5 0.4 1.5 0.5-9.2 0.5-10.6 0.4 5.9 0.4 8.8 0.1-24.6 0.4 9.8 0.4 7.2 0.5-11.8 0.5-9.2 0.4-4.7 0.5-8.1 0.5 1.9 0.5 5 0.4-4.7 0.4-7.3 0.4-1.5 0.5 1.5 0.7 17.6 0.4-4.6 0.4-6.9 0.3 8.1 0.4 10.6 0.5 1.6 0.4-1.6 0.6-17 0.5-13.3 0.6-16.6 0.4-0.6 0.5 0.6 0.6 20.3 0.7 16.3 0.6 19.8 0.5 1 0.4-1 0.5-12.4 0.6-9.3 0.5-12.6 0.5-1.1 0.4 1.1 0.5 6.8 0.5 3.6 0.5-4.6 0.5-2 0.3 5.9 0.4 3.5 0.7 8.1 0.7 12.3 0.7 8.5 0.5-1.2 0.4 1.2 0.7-15.6 0.6-18.6 0.5-1.5 0.4 1.5 0.6 18.6 0.5 14.1 0.5 18.9 0.5 1.2 0.4-1.2 0.7-37.3 0.7-34.9 0.4 0.8 0.5-0.8 0.5 17.3 0.5 19 0.5-8.9 0.5-11 0.4 14.9 0.4 17.2 0.5 1.7 0.4-1.7 0.6-16.7 0.5-14.6 0.6-17.2 0.4-1.4 0.5 1.4 0.5 18.4 0.5 14.5 0.6 18.8 0.4 0.7 0.5-0.7 0.6-13.5 0.7-9.3 0.6-13.1 0.5-1.2 0.4 1.2 0.5 15.6 0.5 14.4 0.6-12.3 0.5-10.2 0.6 17.3 0.5 14.2 0.5-1.4 0.4 1.4 0.7-64.2 0.5 1.2 0.4-1.2 0.4 11.4 0.4 13.5 0.4-7.3 0.4-8.5 0.7 22 0.4-1.4 0.5 1.4 0.5-12.9 0.5-16.7 0.6-12.6 0.4 1.3 0.5-1.3 0.4 12.5 0.4 14.5 0.5-6.4 0.5-9.6 0.6 14.1 0.5 15.5 0.4 1.8 0.5-1.8 0.4-16.8 0.5-15.4 0.5 11.2 0.5 7.7 0.5-17.3 0.5-14.7 0.4 1.1 0.5-1.1 0.5 19.7 0.5 24.3 0.6 20.3 0.4-1.2 0.5 1.2 0.5-10.5 0.5-11.7 0.4 6.8 0.5 9.8 0.4-8.8 0.4-11.5 0.7-9.4 0.7-7.1 0.7-9.3 0.4-1 0.5 1 0.6 59.6 0.5 1.7 0.4-1.7 0.6-18.4 0.4 6.3 0.4 9.5 0.6-32.4 0.4 11.3 0.4 9 0.6-20.6 0.5-13.5 0.6-12.4 0.5 1.6 0.4-1.6 0.7 9.3 0.6 10.8 0.5 1.5 0.4-1.5 0.7-19.7 0.7-15.7 0.7-20.4 0.5-4 0.5-2.5 0.4 3.5 0.5 0.5 0.4-4.4 0.4-1.5 0.4 0.5 0.5-0.5 0.7 0 0.6 3.5 0.7-1 0.7 2.8 0.7 27.9 0.5-7.5 0.4-11 0.5 14.4 0.4 17.2 0.5 10.3 0.5 8.1 0.5-6.7 0.4-4.1 0.4 9.2 0.4 7.4 0.5-1.1 0.4 1.1 0.8-38.4 0.4 13.8 0.4 12.3 0.4-21.6 0.4-18.7 0.7-10.4 0.6-12.9 0.6-9.8 0.7-10.5 0.4 4.3 0.4 2.7 0.7-10.7 0.6-48.1 0.6-45.7 0.6 23.2 0.5 21.8 0.4-40.9 0.5-39.7 0.6-46.8 0.5 21.7 0.4 19.1 0.5-28.4 0.5-25.6 0.5-34.7 0.5-38 0.5 21.1 0.5 23.9 0.3-30.4 0.4-34 0.5-0.7 0.4 0.7 0.4 35.3 0.5 32.6 0.4-23.9 0.5-21.1 0.5 35.4 0.4 33.8 0.4 30.7 0.4 32.1 0.4-16.7 0.4-18.4 0.6 54.4 0.5 47.7 0.5 50.1 0.6 20.5 0.6 17.4 0.6 0.1 0.5 4.3 0.5 0.3 0.7 32.2 0.7 34.9 0.7 31.3 0.4-1.2 0.5 1.2 0.4-15.8 0.4-17.4 0.4 11.2 0.4 13.9 0.6-30.9 0.5 0.8 0.4-0.8 0.7 32.7 0.5-0.9 0.4 0.9 0.7-16 0.6-18.3 0.5-1.5 0.4 1.5 0.7 13 0.7 10.5 0.7 13.4 0.6 3.1 0.6 0.1 0.6 3.7 0.4 1.5 0.5-1.5 0.5-5.5 0.5-2.3 0.6-6 0.4-1.1 0.5 1.1 0.5 14.3 0.6 12.6 0.5-10 0.6-8.2 0.5 14 0.5 11.6 0.4-1.6 0.5 1.6 0.7-34 0.4 12.5 0.4 10 0.5-18.8 0.4-17.6 0.4-1.3 0.4-4.3 0.4 0.3 0.5 2.9 0.5-2 0.5-4.1 0.4-0.9 0.5 0.9 0.7 12.3 0.7 8.8 0.7 12.6 0.6 7.4 0.7 4.9 0.7 7.2 0.5 1.7 0.4-1.7 0.4-14.7 0.4-12.6 0.4 11.5 0.4 10.1 0.4-36.8 0.4 7.1 0.4 10.5 0.6-23 0.6-10.7 0.5-12 0.6 7 0.6 8.9 0.4-8.7 0.4-11.3 0.7-3.1 0.7 1.3 0.7-4.1 0.6-1 0.5 1.2 0.4-1.2 0.7 3.7 0.6 6.9 0.5 1.1 0.4-1.1 0.6-7.6 0.5-3.6 0.6-7.3 0.4-1.4 0.5 1.4 0.4 32 0.4 28.5 0.4-23.5 0.4-21.5 0.6 53.5 0.5 1.5 0.4-1.5 0.4-20.9 0.5-19 0.4 15 0.3 11.7 0.7-35.3 0.4-1.5 0.5 1.5 0.6 31.5 0.4-11.2 0.4-14.5 0.4 16.5 0.4 19.9 0.5 1.3 0.4-1.3 0.7-11.7 0.4 2.2 0.4 5.5 0.4-5.7 0.4-7.2 0.4-1.3 0.5 1.3 0.4 7.2 0.4 6.1 0.4-5.8 0.4-3.3 0.6 12.7 0.5 1.4 0.4-1.4 0.7-7.5 0.5-0.9 0.4 0.9 0.7 12.8 0.7 8.6 0.7 12.3 0.6 2.1 0.6-0.4 0.6 2.1 0.4 1.2 0.5-1.2 0.5-22.3 0.6-19.6 0.6-21.8 0.7-1.4 0.8 2.3 0.7-3.3 0.7 2.1 0.8-1.9 0.4-1.1 0.5 1.1 0.6 32.7 0.5 0.7 0.4-0.7 0.6-20.1 0.5-16.6 0.6-19.6 0.4-0.7 0.5 0.7 0.4 25.7 0.4 23.1 0.5-21.4 0.5-18.6 0.4 25.6 0.5 24.5 0.4 6.2 0.3 9.7 0.4-5.8 0.4-7 0.2 23.3 0.4-9.7 0.4-8.2 0.4 10.4 0.4 8.5 0.5-1.5 0.4 1.5 0.4-1.9 0.4-4.9 0.5 1.8 0.4 4.8 0.3-8.9 0.5 3.3 0.4 1.1 0.5-4.6 0.4-1.3 0.5 0.7 0.4-0.7 0.6 3.9 0.5 7.4 0.6-3.8 0.5-4.9 0.5 4.8 0.5 6.4 0.5 1.5 0.4-1.5 0.4-11.5 0.4-8.5 0.5 9.5 0.5 6.7 0.5-11.9 0.4-10.2 0.6-3.4 0.5-6.6 0.4 2.5 0.5 4.8 0.8-8.9 0.4 0.8 0.5-0.8 0.4 14.4 0.4 15.8 0.4-5.7 0.4-9.2 0.6 26.9 0.5-0.6 0.4 0.6 0.7-25 0.6-26.6 0.5-1 0.4 1 0.4 12.7 0.4 9.5 0.4-10.2 0.4-7 0.7 21.4 0.4 1.6 0.5-1.6 0.7-76.9 0.4-1.4 0.5 1.4 0.6 28.2 0.4-8.9 0.4-9.9 0.4 14.9 0.4 17.8 0.5 0.8 0.4-0.8 0.7-59.5 0.4-1.7 0.5 1.7 0.7 59 0.4-19.6 0.4-23 0.4 31 0.4 32.4 0.4 1.4 0.5-1.4 0.5-16.6 0.6-14.9 0.5 0.6 0.4-0.6 0.5 8.9 0.4 12.3 0.5 1 0.4-1 0.6-5.4 0.5-2.4 0.6-5.7 0.4-0.6 0.5 0.6 0.7 7.6 0.7 4.1 0.7 7.9 0.7 15 0.7 11.1 0.8 14.1 0.4 1.7 0.5-1.7 0.5-15.4 0.6-13.4 0.5-15.5 0.5-1 0.4 1 0.4 26.3 0.5 0.7 0.4-0.7 0.4-26.3 0.5-0.7 0.4 0.7 0.7 8.7 0.7 5 0.7 8.4 0.6 6.9 0.5 4.2 0.5 7.3 0.5 0.7 0.4-0.7 0.5-25.6 0.4-22.8 0.5 1.7 0.4-1.7 0.6-0.9 0.6 2.5 0.5-0.8 0.5-1 0.4 1 0.6-2.1 0.5-5.2 0.5-2.1 0.6-6.5 0.6-9 0.6-6.4 0.7-2 0.7-4.7 0.4-1.2 0.5 1.2 0.6 6.4 0.5 4.4 0.6 6.5 0.4 1.6 0.5-1.6 0.5-14.2 0.6-12.2 0.5 1.6 0.4-1.6 0.6 17.4 0.5 21.3 0.6 17.3 0.5-1 0.4 1 0.7-10.5 0.7-13 0.3-11.7 0.4-9.7 0.4 8.6 0.4 6.2 0.4-12.7 0.4-9.3 0.5 0.7 0.4-0.7 0.7 14.8 0.7 16.4 0.7 13 0.7 7.8 0.7 13 0.5 1.6 0.4-1.6 0.7-37.8 0.7-34.6 0.5-5.9 0.6-7.3 0.4-1.5 0.5 1.5 0.7 35.1 0.7 33.8 0.4-1.7 0.5 1.7 0.6-93.4 0.5 1.1 0.4-1.1 0.7 8 0.6 11.4 0.6 8 0.7-0.8 0.7 2 0.7-1.2 0.6-40.3 0.7-37 0.4-11.3 0.4-13.5 0.4-1.1 0.5 1.1 0.6 24.8 0.5 22 0.6 24.6 0.4 0.9 0.5-0.9 0.4-52 0.4-48.8 0.7-7.6 0.7-12.3 0.7-8.4 0.6-2.5 0.7-4.2 0.5-1 0.4 1 -0.1 93.3 0.4 1.6 0.5-1.6 0.5-14 0.4-12.3 0.5 0.7 0.4-0.7 0.5 1.3 0.6 3.8 0.5 1.6 0.6 13.9 0.6 16.1 0.6 13.8 0.6 6 0.5 10.5 0.5 5.7 0.5-0.9 0.4 0.9 0.5-5.8 0.4-7.7 0.5-1.2 0.4 1.2 0.5 41.5 0.4 40.3 0.5-0.7 0.4 0.7 0.6-33.8 0.6-36.4 0.4-1.1 0.5 1.1 0.5 8.4 0.6 5.4 0.5 8.4 0.7 7.5 0.7 5.6 0.7 7.8 0.5 0.8 0.4-0.8 0.7-4.2 0.7-2.5 0.6-1.1 0.6-3.9 0.6-0.2 0.4-35.5 0.4-36.6 0.6-16.5 0.7-14.4 0.6-13.9 0.6-16.1 0.6-13.8 0.6 1.5 0.6-3.3 0.7 3.5 0.6-1.7 0.6-41.1 0.5-39.1 0.5 1.2 0.4-1.2 0.7 28.7 0.7 30.9 0.7 0.6 0.7-1.7 0.6 1.1 0.7-31.1 0.7-33.7 0.4-1 0.5 1 0.4 26.2 0.4 23.1 0.6 92.8 0.5 11.7 0.5 14.9 0.5 12 0.6 39.6 0.7 42.9 0.7 4.6 0.6 2.1 0.5-0.9 0.4 0.9 0.6-19.9 0.6-23.2 0.5-1.2 0.4 1.2 0.5 29.3 0.4 26.7 0.5-1.2 0.4 1.2 0.5-22.5 0.4-25.8 0.5-1.4 0.4 1.4 0.6 29.1 0.6 26.9 0.4-1 0.5 1 0.4-15.5 0.5-18.6 0.4-1.6 0.5 1.6 0.6 37.7 0.5 35 0.5-1.6 0.4 1.6 0.8-28.6 0.7-32.1 0.7-28.7 0.5 0.9 0.4-0.9 0.5 32.2 0.4 33.9 0.4-15.6 0.5-17.1 0.7 59.9 0.4-1.7 0.5 1.7 0.4-101.1 0.4 1.3 0.5-1.3 0.5 33.2 0.6 34.4 0.5 0.8 0.4-0.8 0.6-29.7 0.6-27.5 0.4 1.5 0.5-1.5 0.7 18.6 0.7 21.9 0.5 1.5 0.4-1.5 0.6-14.1 0.6-12.3 0.4 1.1 0.5-1.1 0.4 20.5 0.5 23.9 0.4 1 0.5-1 0.4-46.7 0.5-44.1 0.4 0.6 0.5-0.6 0.6 17.1 0.7 20.6 0.6 17 0.5-1.7 0.4 1.7 0.7-33.9 0.7-37.5 0.5-1.5 0.4 1.5 0.7 55.1 0.4-15.9 0.5-17.9 0.4 30.5 0.5 33.8 0.4 1.7 0.5-1.7 0.4-28.6 0.5-27.4 0.4 1.1 0.5-1.1 0.4 5.1 0.4 7.5 0.5-2.7 0.5-4.6 0.5 6.3 0.6 8 0.7 17.6 0.7 13.7 0.7 16.8 0.5 1.3 0.4-1.3 0.5-1.1 0.6 1.1 0.5-1.7 0.7-5.1 0.7-1.6 0.4 0.5 0.5-0.5 0.5 13.7 0.6 16.7 0.6 12.7 0.4-1.7 0.5 1.7 0.5-21.4 0.6-24.6 0.5-21.6 0.5 0.9 0.4-0.9 0.5 30.4 0.4 33.3 0.5 1.3 0.4-1.3 0.6-23.1 0.5-19.5 0.5-23.4 0.6-11.5 0.5-9.1 0.6-11.9 0.4-1.6 0.5 1.6 0.7 13.8 0.7 9.3 0.7 13.3 0.7 15.2 0.6 12.1 0.5-1.6 0.4 1.6 0.5-19 0.4-21.5 0.5-0.7 0.4 0.7 0.6 9.4 0.5 6.6 0.5 10.1 0.5 29.4 0.4 27.5 0.4-1.2 0.5 1.2 0.6-33.8 0.5-35 0.5-1.7 0.4 1.7 0.4 81.7 0.5 0.9 0.4-0.9 0.8-14.4 0.7-10.4 0.7-14.4 0.5-1 0.4 1 0.6 12.6 0.5 9.7 0.6 13.1 0.5 0.9 0.4-0.9 0.6-12.6 0.6-11.2 0.4 0.8 0.5-0.8 0.6 0.4 0.7 3.3 0.6-1.4 0.7 1.9 0.5 10.8 0.6 6.1 0.5 10.4 0.5 1.7 0.4-1.7 0.8-15.5 0.7-12.4 0.7-15.2 0.5-0.6 0.4 0.6 0.6 8.8 0.5 4.8 0.6 8.9 0.4 1.4 0.5-1.4 0.5-7.9 0.6-3.9 0.6-6.8 0.4-1.4 0.5 1.4 0.4 17.3 0.4 1.4 0.5-1.4 0.7-9.1 0.7-4.8 0.7-8.3 0.7-9.6 0.6-6.1 0.5 0.5 0.4-0.5 0.6 10.8 0.5 14.4 0.5 11.1 0.6 2.4 0.5 5.4 0.6 2.8 0.4-1 0.5 1 0.4-12.2 0.5-14.1 0.4-1.2 0.5 1.2 0.5 15.4 0.6 12.5 0.5 15.2 0.5 0.7 0.4-0.7 0.7-22.6 0.7-20.2 0.5-3.9 0.6-9.1 0.5-4.1 0.5 0.8 0.4-0.8 0.6 9.2 0.5 12.5 0.6 9.8 0.4-0.9 0.5 0.9 0.5-8.2 0.6-12.7 0.5-9 0.7-1.1 0.7-3.8 0.7-0.5 0.5 1.2 0.4-1.2 0.5 3.6 0.4 6 0.5 1.7 0.4-1.7 0.7-6.9 0.7-3.5 0.7-6.7 0.7-11.9 0.7-10.3 0.5 1.3 0.4-1.3 0.6 24 0.6 26.8 0.4 1.2 0.5-1.2 0.4-67.5 0.4-1.1 0.5 1.1 0.5 13.5 0.6 10.2 0.5 14.2 0.5 1.8 0.4-1.8 0.4-54.7 0.5-1.2 0.4 1.2 0.5 33.3 0.4 30.4 0.5-0.9 0.4 0.9 0.6-10.1 0.5-12.1 0.5-10.3 0.7 0.8 0.7-3.6 0.8 1.1 0.4 1.4 0.5-1.4 0.6 5.3 0.7 8 0.7 11.5 0.7 7.2 0.7 11 0.6 8.9 0.7 6.8 0.5-0.9 0.4 0.9 0.6-15.4 0.6-18.7 0.4-1.4 0.5 1.4 0.6 17 0.5 14.5 0.5-1.5 0.4 1.5 0.5 0.8 0.5-2.6 0.4-0.6 0.5 0.6 0.5 14 0.6 12.3 0.5-1.1 0.4 1.1 0.6-22.8 0.5-26.5 0.6-23.4 0.4 1.1 0.5-1.1 0.7 24.7 0.7 27.4 0.5 0.9 0.4-0.9 0.6-18.4 0.6-15.7 0.4 0.6 0.5-0.6 0.7 10.7 0.7 14.1 0.7 10.3 0.6-1.6 0.7 2.8 0.6-2.6 0.7 1.4 0.5 2.3 0.5-1.7 0.6 2.3 0.4 1.1 0.5-1.1 0.5-14 0.6-11.5 0.6-13.8 0.4-1.6 0.5 1.6 0.4 18.6 0.5 15.5 0.4-1.3 0.5 1.3 0.7-13.6 0.7-17.6 0.7-14.2 0.5-3.6 0.6-6.4 0.5-3.1 0.5 1.1 0.4-1.1 0.7 3 0.7 7.4 0.7 2.7 0.7-1 0.6 2 0.7-2.4 0.6 1.4 0.6 7.7 0.6 3.1 0.6 7.3 0.7 1.3 0.6-3 0.6 3.4 0.7-1.7 0.6 5.4 0.6 8.4 0.6 4.2 0.7 4.2 0.7 6.7 0.7 3.6 0.5-1.2 0.4 1.2 0.6-5 0.6-8.5 0.4-0.8 0.5 0.8 0.4 22.6 0.6 7.6 0.6 6.3 0.5-6.9 0.5-3.3 0.4 7.2 0.4 4.9 0.4-1.1 0.5 1.1 0.6-17.7 0.5-20.7 0.6-17.9 0.5 0.6 0.4-0.6 0.5 27.5 0.4 29.9 0.5 0.8 0.4-0.8 0.7-28.2 0.7-25.8 0.4 1.8 0.5-1.8 0.6 18.5 0.7 22.1 0.5 0.9 0.4-0.9 0.7-10.1 0.7-8.1 0.4 0.7 0.5-0.7 0.4 22.4 0.5 24.9 0.4 0.8 0.5-0.8 0.6-28 0.4 9.6 0.4 11 0.4-14.3 0.4-17.6 0.7-12 0.5 2.6 0.4 5.2 0.4-4.7 0.5-8.1 0.4-0.8 0.5 0.8 0.6 21.7 0.4-7.3 0.4-8.9 0.4 10.1 0.4 12.6 0.6 5.2 0.6 1.6 0.6 4.5 0.4 1.2 0.5-1.2 0.6-10.3 0.6-6.5 0.6-10.2 0.6-1.4 0.6 1.5 0.6-1.6 0.4-0.7 0.5 0.7 0.6 17.2 0.7 15.8 0.5-0.6 0.4 0.6 0.5-1.8 0.5-5 0.5 1.3 0.5 3 0.5-1.9 0.4-4.7 0.7-14.2 0.7-12.8 0.4 1.6 0.5-1.6 0.6 7.3 0.6 10.1 0.6 6.4 0.4-1.3 0.5 1.3 0.4-10.9 0.5-14.2 0.5 6.7 0.6 10 0.5-13.3 0.6-14.4 0.4-0.6 0.5 0.6 0.6 12.5 0.6 10.2 0.6 12.2 0.4 1.7 0.5-1.7 0.2-80.9 0.4-0.7 0.5 0.7 0.6 21.6 0.6 17.1 0.6 21.9 0.5 7.1 0.6 4.3 0.5-1.8 0.4 1.8 0.7-25.1 0.7-27.7 0.6-8.3 0.4 2.1 0.4 4.1 0.4-2.8 0.4-6.4 0.4-0.9 0.5 0.9 0.4 17.6 0.5 15.1 0.4-1.1 0.5 1.1 0.7-16.4 0.6-19.8 0.7-16.7 0.4 1.7 0.5-1.7 0.7 81.2 0.4-1.8 0.5 1.8 0.6 0.9 0.6-3.1 0.6 0.7 0.6-9 0.7-12.4 0.5-1.8 0.4 1.8 0.7 14.1 0.6 13 0.5-1.7 0.4 1.7 0.6-2.8 0.6-4.7 0.6-2.8 0.5 0.8 0.4-0.8 0.5 4.6 0.4 6.7 0.4-2.4 0.5-4.7 0.7 10.6 0.4-1.8 0.5 1.8 0.6-4.5 0.4 2.6 0.4 1.2 0.5-7.9 0.4 1.2 0.4 4 0.5-1.8 0.4-4 0.4-0.7 0.5 0.7 0.6 21.5 0.5 1.8 0.4-1.8 0.7-24.6 0.7-20.2 0.7-23.8 0.4-1.6 0.5 1.6 0.6 36 0.7 33.7 0.4-1.4 0.5 1.4 0.4-22.3 0.5-25.7 0.4 13.6 0.4 16.3 0.8-43.8 0.4 1 0.5-1 0.7 1.2 0.7 3.4 0.7-0.7 0.8 3 0.4 17.9 0.5 16.2 0.4-13.1 0.4-10.5 0.7 31.1 0.5 0.5 0.4-0.5 0.8-27.4 0.4 10.8 0.4 12.5 0.4-42.6 0.4 15.6 0.4 13.2 0.4-16.4 0.4-14.2 0.5 1.5 0.4-1.5 0.7 38.9 0.4-15.4 0.4-13.9 0.8 39.9 0.7 1.3 0.7-1.8 0.7 2.8 0.7-1.2 0.7 1.2 0.5 1.4 0.4-1.4 0.7-33.8 0.5-1 0.4 1 0.7 1.9 0.8-2.5 0.7 4.1 0.7-1.2 0.4 10.8 0.4 13.8 0.4-8 0.4-11.6 0.4 38.5 0.4-14.8 0.4-11.8 0.4 15 0.4 13.1 0.5-1.7 0.4 1.7 0.4-11.9 0.4-13.3 0.5 8.2 0.5 9.8 0.6-13.3 0.5-15.6 0.5-0.7 0.4 0.7 0.7 17.7 0.7 15 0.4-1.2 0.5 1.2 0.3-14 0.4-15.6 0.5 10.4 0.4 13.4 0.4-14.5 0.4-15.8 0.5-1.1 0.4 1.1 0.5 13.4 0.4 11.7 0.5-9.3 0.4-5.9 0.7 21.7 0.4 0.8 0.5-0.8 0.6-17.1 0.6-13.6 0.6-17.6 0.6-6.5 0.6-3.2 0.6-7.2 0.4-0.7 0.5 0.7 0.4 17.6 0.5 16.3 0.4-12.9 0.4-11.8 0.7 30.1 0.7 6.7 0.4-1.1 0.4-3.6 0.4 2.4 0.4 4.7 0.4 1.2 0.5-1.2 0.4-23.1 0.5-20.8 0.4 1.6 0.5-1.6 0.4 14.8 0.4 16.5 0.5-12.1 0.5-13.6 0.5 16.6 0.6 18.4 0.4 1.6 0.5-1.6 0.6-9.9 0.7-6 0.7-9 0.4-0.6 0.5 0.6 0.6 8.2 0.6 2.8 0.6 8.1 0.6 4 0.6 0.9 0.6 4.2 0.4 0.6 0.5-0.6 0.3-11.3 0.4-8.9 0.4 8.6 0.4 7.1 0.7-19.2 0.5-1.4 0.4 1.4 0.7 5.3 0.6 2.5 0.7 5.8 0.5 1 0.4-1 0.6-4.5 0.6-0.5 0.6-5.2 0.7-1.2 0.8 3 0.7-3.2 0.7 1.4 0.6 15.8 0.6 13.3 0.6 15.9 0.5 1.6 0.4-1.6 0.8-2.3 0.7 1.4 0.8-1.5 0.4-17.3 0.4-14.2 0.3 12.1 0.4 10.2 0.7-28.9 0.6-10.6 0.6-6.5 0.6-11 0.4-1.7 0.5 1.7 0.5 23.7 0.5 22.2 0.5-16.4 0.5-14.9 0.5 22.2 0.4 20.5 0.4 2.8 0.4 5.4 0.5-1.4 0.5-4.9 0.6 3.3 0.5 6.1 0.5 1.5 0.4-1.5 0.4-9.5 0.4-6.4 0.5 6.1 0.5 3.8 0.6-10.4 0.5-8.4 0.5-5.3 0.4-8.4 0.4 2.2 0.5 4.8 0.7-12.5 0.4 1.7 0.5-1.7 0.6 21.5 0.6 26.1 0.6 22.2 0.4-1 0.5 1 0.4-7.3 0.4-8.7 0.5 3.5 0.5 6 0.5-8.2 0.6-10.1 0.6-6.2 0.6-3.2 0.6-6.4 0.4-1.5 0.5 1.5 0.4 10.8 0.5 8.1 0.4-6.3 0.4-4.1 0.7 16.6 0.5 1.4 0.4-1.4 0.8-1.7 0.7 2.7 0.7-3.5 0.7 1 0.7-21.5 0.4 10.7 0.5 7.4 0.4-13.2 0.5-11.5 0.5 1.6 0.4-1.6 0.6 21.9 0.4-9.7 0.4-8.5 0.4 13.8 0.5 10.6 0.6-0.5 0.7 1.8 0.7-2.2 0.6 1.7 0.7-0.8 0.7 17 0.4-1.5 0.5 1.5 0.7-21.9 0.6-23.2 0.5-1.4 0.4 1.4 0.7 12 0.7 10.6 0.4-0.8 0.5 0.8 0.4-8 0.5-10.1 0.4-1.3 0.5 1.3 0.6 7.4 0.6 3.7 0.5 7 0.5 1.7 0.4-1.7 0.8-1.1 0.7 0.7 0.7-2.4 0.8 0.5 0.4-5.4 0.4-7.9 0.4 3.7 0.5 6.4 0.7-12.6 0.5 1.6 0.4-1.6 0.4 8.8 0.5 10.8 0.4-5.2 0.4-7.9 0.6 17.1 0.4 4.7 0.4 7.5 0.4-2.4 0.4-3.8 0.6 11 0.5-1 0.4 1 0.4-29.9 0.5-32 0.4-1.3 0.5 1.3 0.7 2.9 0.7-0.2 0.8 3.2 0.7 0.9 0.5 4 0.5 5.9 0.6-2.6 0.5-3.9 0.4 3 0.4 6.1 0.5 1.6 0.4-1.6 0.5-5.6 0.4-2.6 0.4 3.7 0.4 2 0.4-12.9 0.4 3.8 0.4 6.3 0.7-9.5 0.4 0.5 0.5-0.5 0.6 10 0.6 12.6 0.6 10 0.7-1.3 0.8 2.6 0.7-2.5 0.8 1.9 0.7-1.9 0.8 1.2 0.6-12 0.6-16.6 0.6-11.9 0.4 1 0.5-1 0.6 15 0.6 18.9 0.6 14.4 0.7-0.6 0.7 1.9 0.8-1.3 0.6-16.7 0.4 5 0.4 6.4 0.4-8.1 0.4-11.2 0.6-8.2 0.6-4.7 0.6-7.4 0.5-0.6 0.4 0.6 0.6 25.5 0.5 22 0.5-19.3 0.6-17.4 0.5 24.5 0.5 22.1 0.4-1.3 0.5 1.3 0.6-47.8 0.4 15.6 0.4 13.6 0.4-26.7 0.4-25.4 0.7-0.3 0.6-3.2 0.5-1 0.4 1 0.7 29.4 0.5 1 0.4-1 0.6-22.6 0.6-17.7 0.6-22.7 0.5-0.9 0.4 0.9 0.4 38 0.5 36.2 0.4-1.6 0.5 1.6 0.7-17.9 0.5 7.8 0.4 5.6 0.4-11.3 0.5-8 0.4 1 0.5-1 0.6 9 0.7 10.3 0.4 0.9 0.5-0.9 0.4-9.1 0.5-5.7 0.4 1.2 0.5-1.2 0.5 10.4 0.5 14 0.5-6.1 0.5-9.3 0.5 9.9 0.4 12.7 0.5 0.7 0.4-0.7 0.7-4.9 0.6-2.2 0.7-4.4 0.5-0.9 0.4 0.9 0.6 7.3 0.6 3.9 0.6 8.1 0.5 0.8 0.4-0.8 0.4-15.3 0.4-13.4 0.4 10.2 0.4 9.1 0.4-15.8 0.5-14.2 0.4 1.4 0.5-1.4 0.4 9.1 0.4 11.1 0.4-7.7 0.5-10.1 0.3 29.2 0.5-11 0.4-7.9 0.6 13 0.5 10.2 0.6 1.2 0.6 4.3 0.6-0.9 0.7 3.4 0.4 1.3 0.5-1.3 0.4-7.1 0.4-4.7 0.4 5.3 0.4 2 0.6-10.2 0.7-2.2 0.6 1 0.7-3.1 0.7 2.1 0.7-2.3 0.6-0.8 0.7 2.4 0.7-3.3 0.7 3.2 0.6-1.5 0.5 4.3 0.6 6.5 0.5-1.4 0.5-4.6 0.4 4.3 0.4 5.6 0.5 0.6 0.4-0.6 0.7-14.6 0.7-12.5 0.4 1.2 0.5-1.2 0.6 6.5 0.6 10.6 0.6 6.5 0.6-1.1 0.7 2.2 0.7-2.5 0.7 2.7 0.6-1.3 0.7-1.2 0.7 1.6 0.6-2.8 0.7 2.2 0.7-2"/>
</g>
<g font-size="66" text-anchor="middle">
<text transform="translate(183.0 1395) scale(1 1.06)">5</text>
<text transform="translate(363.6 1395) scale(1 1.06)">10</text>
<text transform="translate(544.3 1395) scale(1 1.06)">15</text>
<text transform="translate(725.0 1395) scale(1 1.06)">20</text>
<text transform="translate(905.6 1395) scale(1 1.06)">25</text>
<text transform="translate(1086.2 1395) scale(1 1.06)">30</text>
<text transform="translate(1266.9 1395) scale(1 1.06)">35</text>
<text transform="translate(1447.6 1395) scale(1 1.06)">40</text>
</g>
<g font-size="64.5" text-anchor="end">
<text x="1416.5" y="389.5">PVA/Levo</text>
<text x="1414" y="789.8">PVA</text>
<text x="1416" y="1085.8">Levo</text>
</g>
<text font-size="80" x="733.7" y="1496.5">2<tspan x="774.4" font-size="69.76" textLength="39.67" lengthAdjust="spacingAndGlyphs">θ</tspan><tspan x="812.5"> (°)</tspan></text>
<text font-size="81.2" text-anchor="middle" transform="translate(93 699.5) rotate(-90)">Intensity (a.u.)</text>
</svg></body></html>
